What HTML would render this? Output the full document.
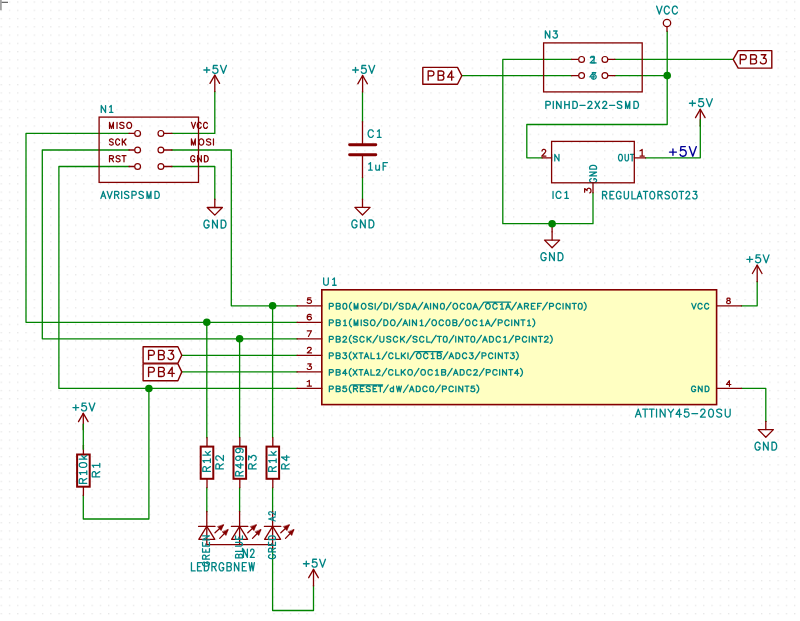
<!DOCTYPE html>
<html><head><meta charset="utf-8"><title>schematic</title>
<style>
html,body{margin:0;padding:0;background:#fff;font-family:"Liberation Sans",sans-serif;}
svg{display:block;}
text{font-family:"Liberation Sans",sans-serif;fill:#000;fill-opacity:0;stroke:none;}
path{fill:none;stroke-linejoin:round;stroke-linecap:round;}
</style></head><body>
<svg width="800" height="621" viewBox="0 0 800 621">
<defs><pattern id="g" x="0.6" y="1.4" width="8.265" height="8.265" patternUnits="userSpaceOnUse"><rect x="0" y="0" width="1.3" height="1.3" fill="#e6e6e6"/></pattern></defs>
<rect width="800" height="621" fill="#fff"/>
<rect width="800" height="621" fill="url(#g)"/>
<path d="M0,2.3 H8" stroke="#505050" stroke-width="1.1" style="stroke-linecap:butt"/><path d="M0.9,0 V10.2" stroke="#a2a2a2" stroke-width="1.8" style="stroke-linecap:butt"/>
<path d="M129,133.4 26,133.4 26,322.3 297,322.3" stroke="#008400" stroke-width="1.3" style="stroke-linecap:square"/>
<path d="M129,150 42.3,150 42.3,338.8 297,338.8" stroke="#008400" stroke-width="1.3" style="stroke-linecap:square"/>
<path d="M129,166.5 58.9,166.5 58.9,388.45 297,388.45" stroke="#008400" stroke-width="1.3" style="stroke-linecap:square"/>
<path d="M172,133.4 214.8,133.4 214.8,91.6" stroke="#008400" stroke-width="1.3" style="stroke-linecap:square"/>
<path d="M172,150 231.3,150 231.3,305.8 297,305.8" stroke="#008400" stroke-width="1.3" style="stroke-linecap:square"/>
<path d="M172,166.5 214.8,166.5 214.8,199.2" stroke="#008400" stroke-width="1.3" style="stroke-linecap:square"/>
<path d="M362.5,92 362.5,121.7" stroke="#008400" stroke-width="1.3" style="stroke-linecap:square"/>
<path d="M362.5,177.5 362.5,199.1" stroke="#008400" stroke-width="1.3" style="stroke-linecap:square"/>
<path d="M181.8,355.3 297,355.3" stroke="#008400" stroke-width="1.3" style="stroke-linecap:square"/>
<path d="M181.8,371.9 297,371.9" stroke="#008400" stroke-width="1.3" style="stroke-linecap:square"/>
<path d="M206.8,322.3 206.8,437.5" stroke="#008400" stroke-width="1.3" style="stroke-linecap:square"/>
<path d="M239.6,338.8 239.6,437.5" stroke="#008400" stroke-width="1.3" style="stroke-linecap:square"/>
<path d="M272.6,305.8 272.6,437.5" stroke="#008400" stroke-width="1.3" style="stroke-linecap:square"/>
<path d="M206.8,488 206.8,511.5" stroke="#008400" stroke-width="1.3" style="stroke-linecap:square"/>
<path d="M239.6,488 239.6,511.5" stroke="#008400" stroke-width="1.3" style="stroke-linecap:square"/>
<path d="M272.6,488 272.6,511.5" stroke="#008400" stroke-width="1.3" style="stroke-linecap:square"/>
<path d="M148.9,388.45 148.9,519 83.3,519 83.3,495.5" stroke="#008400" stroke-width="1.3" style="stroke-linecap:square"/>
<path d="M272.6,548 272.6,610.5 313.5,610.5 313.5,585.9" stroke="#008400" stroke-width="1.3" style="stroke-linecap:square"/>
<path d="M741.5,305.8 757.2,305.8 757.2,281.7" stroke="#008400" stroke-width="1.3" style="stroke-linecap:square"/>
<path d="M741.5,388.45 765.8,388.45 765.8,421.3" stroke="#008400" stroke-width="1.3" style="stroke-linecap:square"/>
<path d="M461.8,75.6 571.5,75.6" stroke="#008400" stroke-width="1.3" style="stroke-linecap:square"/>
<path d="M571.5,59.4 502.8,59.4 502.8,223.7 593,223.7 593,192.8" stroke="#008400" stroke-width="1.3" style="stroke-linecap:square"/>
<path d="M615,59.4 733.2,59.4" stroke="#008400" stroke-width="1.3" style="stroke-linecap:square"/>
<path d="M615,75.6 667.2,75.6" stroke="#008400" stroke-width="1.3" style="stroke-linecap:square"/>
<path d="M667.2,31.3 667.2,124.5 526.8,124.5 526.8,157.8 542,157.8" stroke="#008400" stroke-width="1.3" style="stroke-linecap:square"/>
<path d="M645.6,157.8 700.3,157.8 700.3,125.8" stroke="#008400" stroke-width="1.3" style="stroke-linecap:square"/>
<circle cx="272.6" cy="305.8" r="3.8" fill="#008400" stroke="none"/>
<circle cx="206.8" cy="322.3" r="3.8" fill="#008400" stroke="none"/>
<circle cx="239.6" cy="338.8" r="3.8" fill="#008400" stroke="none"/>
<circle cx="148.9" cy="388.45" r="3.8" fill="#008400" stroke="none"/>
<circle cx="667.2" cy="75.6" r="3.8" fill="#008400" stroke="none"/>
<rect x="321.8" y="289.8" width="394.8" height="114.8" fill="#ffffc2" stroke="#840000" stroke-width="1.6"/>
<path d="M297,305.8 321.8,305.8" stroke="#840000" stroke-width="1.3" style="stroke-linecap:round"/>
<path d="M297,322.3 321.8,322.3" stroke="#840000" stroke-width="1.3" style="stroke-linecap:round"/>
<path d="M297,338.8 321.8,338.8" stroke="#840000" stroke-width="1.3" style="stroke-linecap:round"/>
<path d="M297,355.3 321.8,355.3" stroke="#840000" stroke-width="1.3" style="stroke-linecap:round"/>
<path d="M297,371.9 321.8,371.9" stroke="#840000" stroke-width="1.3" style="stroke-linecap:round"/>
<path d="M297,388.45 321.8,388.45" stroke="#840000" stroke-width="1.3" style="stroke-linecap:round"/>
<path d="M716.6,305.8 741.5,305.8" stroke="#840000" stroke-width="1.3" style="stroke-linecap:round"/>
<path d="M716.6,388.45 741.5,388.45" stroke="#840000" stroke-width="1.3" style="stroke-linecap:round"/>
<path d="M323.65,277.97 323.65,283.16 323.98,284.19 324.64,284.88 325.64,285.23 326.3,285.23 327.3,284.88 327.96,284.19 328.29,283.16 328.29,277.97M332.68,279.35 333.37,279.01 334.41,277.97 334.41,285.23M332.68,285.23 336.15,285.23" stroke="#008484" stroke-width="1.3"/><text x="323" y="285.88" font-size="11.89" textLength="13.8" lengthAdjust="spacingAndGlyphs">U1</text>
<path d="M638.25,409.17 635.45,417.03M638.25,409.17 641.04,417.03M636.5,414.41 640,414.41M645.16,409.17 645.16,417.03M642.71,409.17 647.61,409.17M651.67,409.17 651.67,417.03M649.22,409.17 654.11,409.17M656.55,409.17 656.55,417.03M660.2,409.17 660.2,417.03M660.2,409.17 665.09,417.03M665.09,409.17 665.09,417.03M667.98,409.17 670.78,412.91 670.78,417.03M673.57,409.17 670.78,412.91M679.55,409.17 676.05,414.41 681.3,414.41M679.55,409.17 679.55,417.03M688.38,409.17 684.89,409.17 684.54,412.54 684.89,412.17 685.93,411.79 686.98,411.79 688.03,412.17 688.73,412.91 689.08,414.03 689.08,414.78 688.73,415.9 688.03,416.65 686.98,417.03 685.93,417.03 684.89,416.65 684.54,416.28 684.19,415.53M691.92,413.66 697.61,413.66M700.8,411.04 700.8,410.67 701.15,409.92 701.5,409.55 702.2,409.17 703.6,409.17 704.3,409.55 704.65,409.92 705,410.67 705,411.42 704.65,412.17 703.95,413.29 700.45,417.03 705.35,417.03M710.68,409.17 709.63,409.55 708.93,410.67 708.58,412.54 708.58,413.66 708.93,415.53 709.63,416.65 710.68,417.03 711.38,417.03 712.43,416.65 713.13,415.53 713.48,413.66 713.48,412.54 713.13,410.67 712.43,409.55 711.38,409.17 710.68,409.17M721.61,410.3 720.91,409.55 719.86,409.17 718.46,409.17 717.41,409.55 716.72,410.3 716.72,411.04 717.07,411.79 717.41,412.17 718.11,412.54 720.21,413.29 720.91,413.66 721.26,414.03 721.61,414.78 721.61,415.9 720.91,416.65 719.86,417.03 718.46,417.03 717.41,416.65 716.72,415.9M725.25,409.17 725.25,414.78 725.6,415.9 726.3,416.65 727.35,417.03 728.05,417.03 729.1,416.65 729.8,415.9 730.15,414.78 730.15,409.17" stroke="#008484" stroke-width="1.3"/><text x="634.8" y="417.68" font-size="12.71" textLength="96" lengthAdjust="spacingAndGlyphs">ATTINY45-20SU</text>
<path d="M329.35,303.43 329.35,309.07M329.35,303.43 331.9,303.43 332.75,303.7 333.04,303.97 333.32,304.5 333.32,305.31 333.04,305.85 332.75,306.12 331.9,306.38 329.35,306.38M336.27,303.43 336.27,309.07M336.27,303.43 338.82,303.43 339.67,303.7 339.96,303.97 340.24,304.5 340.24,305.04 339.96,305.58 339.67,305.85 338.82,306.12M336.27,306.12 338.82,306.12 339.67,306.38 339.96,306.65 340.24,307.19 340.24,308 339.96,308.53 339.67,308.8 338.82,309.07 336.27,309.07M344.57,303.43 343.72,303.7 343.15,304.5 342.87,305.85 342.87,306.65 343.15,308 343.72,308.8 344.57,309.07 345.13,309.07 345.98,308.8 346.55,308 346.83,306.65 346.83,305.85 346.55,304.5 345.98,303.7 345.13,303.43 344.57,303.43M351.44,302.36 350.78,302.94 350.12,303.82 349.79,304.7 349.46,305.88 349.46,306.76 349.79,307.93 350.12,308.81 350.78,309.69 351.44,310.28M354.21,303.43 354.21,309.07M354.21,303.43 356.06,309.07M357.9,303.43 356.06,309.07M357.9,303.43 357.9,309.07M363.07,303.43 362.51,303.7 361.94,304.24 361.66,304.77 361.37,305.58 361.37,306.92 361.66,307.73 361.94,308.26 362.51,308.8 363.07,309.07 364.21,309.07 364.77,308.8 365.34,308.26 365.62,307.73 365.91,306.92 365.91,305.58 365.62,304.77 365.34,304.24 364.77,303.7 364.21,303.43 363.07,303.43M372.55,304.24 371.98,303.7 371.13,303.43 370,303.43 369.14,303.7 368.58,304.24 368.58,304.77 368.86,305.31 369.14,305.58 369.71,305.85 371.41,306.38 371.98,306.65 372.26,306.92 372.55,307.46 372.55,308.26 371.98,308.8 371.13,309.07 370,309.07 369.14,308.8 368.58,308.26M375.18,303.43 375.18,309.07M381.81,302.36 377.11,309.88M384.07,303.43 384.07,309.07M384.07,303.43 386.06,303.43 386.91,303.7 387.47,304.24 387.76,304.77 388.04,305.58 388.04,306.92 387.76,307.73 387.47,308.26 386.91,308.8 386.06,309.07 384.07,309.07M390.67,303.43 390.67,309.07M397.3,302.36 392.61,309.88M403.2,304.24 402.64,303.7 401.79,303.43 400.65,303.43 399.8,303.7 399.23,304.24 399.23,304.77 399.52,305.31 399.8,305.58 400.37,305.85 402.07,306.38 402.64,306.65 402.92,306.92 403.2,307.46 403.2,308.26 402.64,308.8 401.79,309.07 400.65,309.07 399.8,308.8 399.23,308.26M406.16,303.43 406.16,309.07M406.16,303.43 408.14,303.43 408.99,303.7 409.56,304.24 409.84,304.77 410.13,305.58 410.13,306.92 409.84,307.73 409.56,308.26 408.99,308.8 408.14,309.07 406.16,309.07M414.4,303.43 412.14,309.07M414.4,303.43 416.67,309.07M412.99,307.19 415.82,307.19M422.69,302.36 417.99,309.88M426.27,303.43 424,309.07M426.27,303.43 428.54,309.07M424.85,307.19 427.69,307.19M430.56,303.43 430.56,309.07M433.52,303.43 433.52,309.07M433.52,303.43 437.49,309.07M437.49,303.43 437.49,309.07M442.14,303.43 441.29,303.7 440.72,304.5 440.44,305.85 440.44,306.65 440.72,308 441.29,308.8 442.14,309.07 442.71,309.07 443.56,308.8 444.13,308 444.41,306.65 444.41,305.85 444.13,304.5 443.56,303.7 442.71,303.43 442.14,303.43M451.04,302.36 446.34,309.88M454.71,303.43 454.15,303.7 453.58,304.24 453.3,304.77 453.01,305.58 453.01,306.92 453.3,307.73 453.58,308.26 454.15,308.8 454.71,309.07 455.85,309.07 456.41,308.8 456.98,308.26 457.27,307.73 457.55,306.92 457.55,305.58 457.27,304.77 456.98,304.24 456.41,303.7 455.85,303.43 454.71,303.43M464.47,304.77 464.19,304.24 463.62,303.7 463.05,303.43 461.92,303.43 461.35,303.7 460.79,304.24 460.5,304.77 460.22,305.58 460.22,306.92 460.5,307.73 460.79,308.26 461.35,308.8 461.92,309.07 463.05,309.07 463.62,308.8 464.19,308.26 464.47,307.73M468.84,303.43 467.99,303.7 467.43,304.5 467.14,305.85 467.14,306.65 467.43,308 467.99,308.8 468.84,309.07 469.41,309.07 470.26,308.8 470.83,308 471.11,306.65 471.11,305.85 470.83,304.5 470.26,303.7 469.41,303.43 468.84,303.43M475.39,303.43 473.12,309.07M475.39,303.43 477.66,309.07M473.97,307.19 476.81,307.19M483.67,302.36 478.97,309.88M487.35,303.43 486.78,303.7 486.21,304.24 485.93,304.77 485.65,305.58 485.65,306.92 485.93,307.73 486.21,308.26 486.78,308.8 487.35,309.07 488.48,309.07 489.05,308.8 489.62,308.26 489.9,307.73 490.18,306.92 490.18,305.58 489.9,304.77 489.62,304.24 489.05,303.7 488.48,303.43 487.35,303.43M497.11,304.77 496.82,304.24 496.26,303.7 495.69,303.43 494.55,303.43 493.99,303.7 493.42,304.24 493.14,304.77 492.85,305.58 492.85,306.92 493.14,307.73 493.42,308.26 493.99,308.8 494.55,309.07 495.69,309.07 496.26,308.8 496.82,308.26 497.11,307.73M500.57,304.5 501.17,304.24 502.06,303.43 502.06,309.07M500.57,309.07 503.54,309.07M508.02,303.43 505.76,309.07M508.02,303.43 510.29,309.07M506.61,307.19 509.44,307.19M516.31,302.36 511.61,309.88M519.89,303.43 517.62,309.07M519.89,303.43 522.16,309.07M518.47,307.19 521.31,307.19M524.5,303.43 524.5,309.07M524.5,303.43 527.05,303.43 527.9,303.7 528.19,303.97 528.47,304.5 528.47,305.04 528.19,305.58 527.9,305.85 527.05,306.12 524.5,306.12M526.48,306.12 528.47,309.07M531.38,303.43 531.38,309.07M531.38,303.43 535.06,303.43M531.38,306.12 533.64,306.12M531.38,309.07 535.06,309.07M537.64,303.43 537.64,309.07M537.64,303.43 541.32,303.43M537.64,306.12 539.91,306.12M547.29,302.36 542.6,309.88M549.55,303.43 549.55,309.07M549.55,303.43 552.1,303.43 552.95,303.7 553.24,303.97 553.52,304.5 553.52,305.31 553.24,305.85 552.95,306.12 552.1,306.38 549.55,306.38M560.4,304.77 560.11,304.24 559.55,303.7 558.98,303.43 557.85,303.43 557.28,303.7 556.71,304.24 556.43,304.77 556.15,305.58 556.15,306.92 556.43,307.73 556.71,308.26 557.28,308.8 557.85,309.07 558.98,309.07 559.55,308.8 560.11,308.26 560.4,307.73M563.07,303.43 563.07,309.07M566.04,303.43 566.04,309.07M566.04,303.43 570,309.07M570,303.43 570,309.07M574.28,303.43 574.28,309.07M572.3,303.43 576.27,303.43M579.93,303.43 579.08,303.7 578.52,304.5 578.23,305.85 578.23,306.65 578.52,308 579.08,308.8 579.93,309.07 580.5,309.07 581.35,308.8 581.92,308 582.2,306.65 582.2,305.85 581.92,304.5 581.35,303.7 580.5,303.43 579.93,303.43M584.17,302.36 584.83,302.94 585.49,303.82 585.82,304.7 586.15,305.88 586.15,306.76 585.82,307.93 585.49,308.81 584.83,309.69 584.17,310.28M484.62,302.22 510.66,302.22" stroke="#008484" stroke-width="1.3"/><text x="328.7" y="309.72" font-size="9.64" textLength="258.1" lengthAdjust="spacingAndGlyphs">PB0(MOSI/DI/SDA/AIN0/OC0A/OC1A/AREF/PCINT0)</text>
<path d="M329.35,319.93 329.35,325.57M329.35,319.93 331.89,319.93 332.74,320.2 333.02,320.47 333.31,321 333.31,321.81 333.02,322.35 332.74,322.62 331.89,322.88 329.35,322.88M336.25,319.93 336.25,325.57M336.25,319.93 338.79,319.93 339.64,320.2 339.93,320.47 340.21,321 340.21,321.54 339.93,322.08 339.64,322.35 338.79,322.62M336.25,322.62 338.79,322.62 339.64,322.88 339.93,323.15 340.21,323.69 340.21,324.5 339.93,325.03 339.64,325.3 338.79,325.57 336.25,325.57M343.62,321 344.21,320.74 345.1,319.93 345.1,325.57M343.62,325.57 346.58,325.57M351.37,318.86 350.72,319.44 350.06,320.32 349.73,321.2 349.4,322.38 349.4,323.26 349.73,324.43 350.06,325.31 350.72,326.19 351.37,326.78M354.14,319.93 354.14,325.57M354.14,319.93 355.98,325.57M357.82,319.93 355.98,325.57M357.82,319.93 357.82,325.57M361.23,319.93 361.23,325.57M367.81,320.74 367.25,320.2 366.4,319.93 365.27,319.93 364.42,320.2 363.86,320.74 363.86,321.27 364.14,321.81 364.42,322.08 364.99,322.35 366.68,322.88 367.25,323.15 367.53,323.42 367.81,323.96 367.81,324.76 367.25,325.3 366.4,325.57 365.27,325.57 364.42,325.3 363.86,324.76M372.17,319.93 371.61,320.2 371.04,320.74 370.76,321.27 370.47,322.08 370.47,323.42 370.76,324.23 371.04,324.76 371.61,325.3 372.17,325.57 373.3,325.57 373.87,325.3 374.43,324.76 374.71,324.23 375,323.42 375,322.08 374.71,321.27 374.43,320.74 373.87,320.2 373.3,319.93 372.17,319.93M381.65,318.86 376.97,326.38M383.9,319.93 383.9,325.57M383.9,319.93 385.88,319.93 386.73,320.2 387.29,320.74 387.58,321.27 387.86,322.08 387.86,323.42 387.58,324.23 387.29,324.76 386.73,325.3 385.88,325.57 383.9,325.57M392.22,319.93 391.65,320.2 391.09,320.74 390.8,321.27 390.52,322.08 390.52,323.42 390.8,324.23 391.09,324.76 391.65,325.3 392.22,325.57 393.35,325.57 393.91,325.3 394.48,324.76 394.76,324.23 395.04,323.42 395.04,322.08 394.76,321.27 394.48,320.74 393.91,320.2 393.35,319.93 392.22,319.93M401.7,318.86 397.01,326.38M405.27,319.93 403.01,325.57M405.27,319.93 407.53,325.57M403.86,323.69 406.68,323.69M409.54,319.93 409.54,325.57M412.49,319.93 412.49,325.57M412.49,319.93 416.45,325.57M416.45,319.93 416.45,325.57M420.19,321 420.78,320.74 421.67,319.93 421.67,325.57M420.19,325.57 423.15,325.57M429.96,318.86 425.28,326.38M433.62,319.93 433.06,320.2 432.49,320.74 432.21,321.27 431.93,322.08 431.93,323.42 432.21,324.23 432.49,324.76 433.06,325.3 433.62,325.57 434.75,325.57 435.32,325.3 435.89,324.76 436.17,324.23 436.45,323.42 436.45,322.08 436.17,321.27 435.89,320.74 435.32,320.2 434.75,319.93 433.62,319.93M443.35,321.27 443.07,320.74 442.5,320.2 441.94,319.93 440.81,319.93 440.24,320.2 439.68,320.74 439.39,321.27 439.11,322.08 439.11,323.42 439.39,324.23 439.68,324.76 440.24,325.3 440.81,325.57 441.94,325.57 442.5,325.3 443.07,324.76 443.35,324.23M447.71,319.93 446.86,320.2 446.3,321 446.01,322.35 446.01,323.15 446.3,324.5 446.86,325.3 447.71,325.57 448.27,325.57 449.12,325.3 449.69,324.5 449.97,323.15 449.97,322.35 449.69,321 449.12,320.2 448.27,319.93 447.71,319.93M452.91,319.93 452.91,325.57M452.91,319.93 455.46,319.93 456.31,320.2 456.59,320.47 456.87,321 456.87,321.54 456.59,322.08 456.31,322.35 455.46,322.62M452.91,322.62 455.46,322.62 456.31,322.88 456.59,323.15 456.87,323.69 456.87,324.5 456.59,325.03 456.31,325.3 455.46,325.57 452.91,325.57M463.48,318.86 458.8,326.38M467.14,319.93 466.58,320.2 466.01,320.74 465.73,321.27 465.45,322.08 465.45,323.42 465.73,324.23 466.01,324.76 466.58,325.3 467.14,325.57 468.27,325.57 468.84,325.3 469.41,324.76 469.69,324.23 469.97,323.42 469.97,322.08 469.69,321.27 469.41,320.74 468.84,320.2 468.27,319.93 467.14,319.93M476.87,321.27 476.59,320.74 476.02,320.2 475.46,319.93 474.33,319.93 473.76,320.2 473.2,320.74 472.92,321.27 472.63,322.08 472.63,323.42 472.92,324.23 473.2,324.76 473.76,325.3 474.33,325.57 475.46,325.57 476.02,325.3 476.59,324.76 476.87,324.23M480.33,321 480.92,320.74 481.81,319.93 481.81,325.57M480.33,325.57 483.29,325.57M487.76,319.93 485.5,325.57M487.76,319.93 490.02,325.57M486.34,323.69 489.17,323.69M496.01,318.86 491.33,326.38M498.27,319.93 498.27,325.57M498.27,319.93 500.81,319.93 501.66,320.2 501.94,320.47 502.22,321 502.22,321.81 501.94,322.35 501.66,322.62 500.81,322.88 498.27,322.88M509.08,321.27 508.79,320.74 508.23,320.2 507.66,319.93 506.53,319.93 505.97,320.2 505.4,320.74 505.12,321.27 504.84,322.08 504.84,323.42 505.12,324.23 505.4,324.76 505.97,325.3 506.53,325.57 507.66,325.57 508.23,325.3 508.79,324.76 509.08,324.23M511.75,319.93 511.75,325.57M514.7,319.93 514.7,325.57M514.7,319.93 518.65,325.57M518.65,319.93 518.65,325.57M522.92,319.93 522.92,325.57M520.94,319.93 524.9,319.93M527.65,321 528.24,320.74 529.13,319.93 529.13,325.57M527.65,325.57 530.61,325.57M532.78,318.86 533.44,319.44 534.09,320.32 534.42,321.2 534.75,322.38 534.75,323.26 534.42,324.43 534.09,325.31 533.44,326.19 532.78,326.78" stroke="#008484" stroke-width="1.3"/><text x="328.7" y="326.22" font-size="9.64" textLength="206.7" lengthAdjust="spacingAndGlyphs">PB1(MISO/DO/AIN1/OC0B/OC1A/PCINT1)</text>
<path d="M329.35,336.43 329.35,342.07M329.35,336.43 331.89,336.43 332.74,336.7 333.02,336.97 333.3,337.5 333.3,338.31 333.02,338.85 332.74,339.12 331.89,339.38 329.35,339.38M336.24,336.43 336.24,342.07M336.24,336.43 338.78,336.43 339.63,336.7 339.91,336.97 340.2,337.5 340.2,338.04 339.91,338.58 339.63,338.85 338.78,339.12M336.24,339.12 338.78,339.12 339.63,339.38 339.91,339.65 340.2,340.19 340.2,341 339.91,341.53 339.63,341.8 338.78,342.07 336.24,342.07M343.09,337.77 343.09,337.5 343.37,336.97 343.66,336.7 344.22,336.43 345.35,336.43 345.91,336.7 346.2,336.97 346.48,337.5 346.48,338.04 346.2,338.58 345.63,339.38 342.81,342.07 346.76,342.07M351.35,335.36 350.69,335.94 350.04,336.82 349.71,337.7 349.38,338.88 349.38,339.76 349.71,340.93 350.04,341.81 350.69,342.69 351.35,343.28M357.27,337.24 356.7,336.7 355.85,336.43 354.73,336.43 353.88,336.7 353.31,337.24 353.31,337.77 353.6,338.31 353.88,338.58 354.44,338.85 356.14,339.38 356.7,339.65 356.98,339.92 357.27,340.46 357.27,341.26 356.7,341.8 355.85,342.07 354.73,342.07 353.88,341.8 353.31,341.26M364.11,337.77 363.83,337.24 363.27,336.7 362.7,336.43 361.57,336.43 361.01,336.7 360.44,337.24 360.16,337.77 359.88,338.58 359.88,339.92 360.16,340.73 360.44,341.26 361.01,341.8 361.57,342.07 362.7,342.07 363.27,341.8 363.83,341.26 364.11,340.73M367.1,336.43 367.1,342.07M371.05,336.43 367.1,340.19M368.51,338.85 371.05,342.07M377.65,335.36 372.98,342.88M379.9,336.43 379.9,340.46 380.19,341.26 380.75,341.8 381.6,342.07 382.16,342.07 383.01,341.8 383.57,341.26 383.86,340.46 383.86,336.43M390.75,337.24 390.18,336.7 389.34,336.43 388.21,336.43 387.36,336.7 386.8,337.24 386.8,337.77 387.08,338.31 387.36,338.58 387.93,338.85 389.62,339.38 390.18,339.65 390.47,339.92 390.75,340.46 390.75,341.26 390.18,341.8 389.34,342.07 388.21,342.07 387.36,341.8 386.8,341.26M397.6,337.77 397.31,337.24 396.75,336.7 396.19,336.43 395.06,336.43 394.49,336.7 393.93,337.24 393.64,337.77 393.36,338.58 393.36,339.92 393.64,340.73 393.93,341.26 394.49,341.8 395.06,342.07 396.19,342.07 396.75,341.8 397.31,341.26 397.6,340.73M400.58,336.43 400.58,342.07M404.54,336.43 400.58,340.19M402,338.85 404.54,342.07M411.14,335.36 406.46,342.88M417.01,337.24 416.45,336.7 415.6,336.43 414.47,336.43 413.62,336.7 413.06,337.24 413.06,337.77 413.34,338.31 413.62,338.58 414.19,338.85 415.88,339.38 416.45,339.65 416.73,339.92 417.01,340.46 417.01,341.26 416.45,341.8 415.6,342.07 414.47,342.07 413.62,341.8 413.06,341.26M423.86,337.77 423.58,337.24 423.01,336.7 422.45,336.43 421.32,336.43 420.75,336.7 420.19,337.24 419.91,337.77 419.62,338.58 419.62,339.92 419.91,340.73 420.19,341.26 420.75,341.8 421.32,342.07 422.45,342.07 423.01,341.8 423.58,341.26 423.86,340.73M426.8,336.43 426.8,342.07M426.8,342.07 430.19,342.07M436.08,335.36 431.41,342.88M439.33,336.43 439.33,342.07M437.35,336.43 441.3,336.43M444.95,336.43 444.11,336.7 443.54,337.5 443.26,338.85 443.26,339.65 443.54,341 444.11,341.8 444.95,342.07 445.52,342.07 446.36,341.8 446.93,341 447.21,339.65 447.21,338.85 446.93,337.5 446.36,336.7 445.52,336.43 444.95,336.43M453.81,335.36 449.13,342.88M455.74,336.43 455.74,342.07M458.69,336.43 458.69,342.07M458.69,336.43 462.64,342.07M462.64,336.43 462.64,342.07M466.9,336.43 466.9,342.07M464.92,336.43 468.88,336.43M472.53,336.43 471.68,336.7 471.12,337.5 470.83,338.85 470.83,339.65 471.12,341 471.68,341.8 472.53,342.07 473.09,342.07 473.94,341.8 474.5,341 474.79,339.65 474.79,338.85 474.5,337.5 473.94,336.7 473.09,336.43 472.53,336.43M481.39,335.36 476.71,342.88M484.96,336.43 482.7,342.07M484.96,336.43 487.21,342.07M483.54,340.19 486.37,340.19M489.54,336.43 489.54,342.07M489.54,336.43 491.52,336.43 492.37,336.7 492.93,337.24 493.21,337.77 493.5,338.58 493.5,339.92 493.21,340.73 492.93,341.26 492.37,341.8 491.52,342.07 489.54,342.07M500.34,337.77 500.06,337.24 499.5,336.7 498.93,336.43 497.8,336.43 497.24,336.7 496.67,337.24 496.39,337.77 496.11,338.58 496.11,339.92 496.39,340.73 496.67,341.26 497.24,341.8 497.8,342.07 498.93,342.07 499.5,341.8 500.06,341.26 500.34,340.73M503.8,337.5 504.39,337.24 505.27,336.43 505.27,342.07M503.8,342.07 506.75,342.07M513.56,335.36 508.88,342.88M515.81,336.43 515.81,342.07M515.81,336.43 518.35,336.43 519.19,336.7 519.48,336.97 519.76,337.5 519.76,338.31 519.48,338.85 519.19,339.12 518.35,339.38 515.81,339.38M526.61,337.77 526.32,337.24 525.76,336.7 525.19,336.43 524.06,336.43 523.5,336.7 522.94,337.24 522.65,337.77 522.37,338.58 522.37,339.92 522.65,340.73 522.94,341.26 523.5,341.8 524.06,342.07 525.19,342.07 525.76,341.8 526.32,341.26 526.61,340.73M529.27,336.43 529.27,342.07M532.22,336.43 532.22,342.07M532.22,336.43 536.17,342.07M536.17,336.43 536.17,342.07M540.43,336.43 540.43,342.07M538.46,336.43 542.41,336.43M544.65,337.77 544.65,337.5 544.93,336.97 545.21,336.7 545.78,336.43 546.91,336.43 547.47,336.7 547.75,336.97 548.04,337.5 548.04,338.04 547.75,338.58 547.19,339.38 544.37,342.07 548.32,342.07M550.28,335.36 550.94,335.94 551.59,336.82 551.92,337.7 552.25,338.88 552.25,339.76 551.92,340.93 551.59,341.81 550.94,342.69 550.28,343.28" stroke="#008484" stroke-width="1.3"/><text x="328.7" y="342.72" font-size="9.64" textLength="224.2" lengthAdjust="spacingAndGlyphs">PB2(SCK/USCK/SCL/T0/INT0/ADC1/PCINT2)</text>
<path d="M329.35,352.93 329.35,358.57M329.35,352.93 331.88,352.93 332.72,353.2 333,353.47 333.28,354 333.28,354.81 333,355.35 332.72,355.62 331.88,355.88 329.35,355.88M336.2,352.93 336.2,358.57M336.2,352.93 338.73,352.93 339.57,353.2 339.85,353.47 340.13,354 340.13,354.54 339.85,355.08 339.57,355.35 338.73,355.62M336.2,355.62 338.73,355.62 339.57,355.88 339.85,356.15 340.13,356.69 340.13,357.5 339.85,358.03 339.57,358.3 338.73,358.57 336.2,358.57M343.29,352.93 346.37,352.93 344.69,355.08 345.53,355.08 346.09,355.35 346.37,355.62 346.65,356.42 346.65,356.96 346.37,357.76 345.81,358.3 344.97,358.57 344.13,358.57 343.29,358.3 343.01,358.03 342.73,357.5M351.21,351.86 350.56,352.44 349.91,353.32 349.58,354.2 349.26,355.38 349.26,356.26 349.58,357.43 349.91,358.31 350.56,359.19 351.21,359.78M353.17,352.93 357.09,358.57M357.09,352.93 353.17,358.57M361,352.93 361,358.57M359.04,352.93 362.97,352.93M366.55,352.93 364.3,358.57M366.55,352.93 368.79,358.57M365.15,356.69 367.95,356.69M371.06,352.93 371.06,358.57M371.06,358.57 374.43,358.57M377.12,354 377.71,353.74 378.59,352.93 378.59,358.57M377.12,358.57 380.05,358.57M386.82,351.86 382.17,359.38M392.93,354.27 392.65,353.74 392.09,353.2 391.53,352.93 390.41,352.93 389.85,353.2 389.29,353.74 389.01,354.27 388.73,355.08 388.73,356.42 389.01,357.23 389.29,357.76 389.85,358.3 390.41,358.57 391.53,358.57 392.09,358.3 392.65,357.76 392.93,357.23M395.86,352.93 395.86,358.57M395.86,358.57 399.22,358.57M401.45,352.93 401.45,358.57M405.38,352.93 401.45,356.69M402.85,355.35 405.38,358.57M407.98,352.93 407.98,358.57M414.55,351.86 409.9,359.38M418.19,352.93 417.62,353.2 417.06,353.74 416.78,354.27 416.5,355.08 416.5,356.42 416.78,357.23 417.06,357.76 417.62,358.3 418.19,358.57 419.31,358.57 419.87,358.3 420.43,357.76 420.71,357.23 420.99,356.42 420.99,355.08 420.71,354.27 420.43,353.74 419.87,353.2 419.31,352.93 418.19,352.93M427.84,354.27 427.56,353.74 427,353.2 426.44,352.93 425.32,352.93 424.76,353.2 424.19,353.74 423.91,354.27 423.63,355.08 423.63,356.42 423.91,357.23 424.19,357.76 424.76,358.3 425.32,358.57 426.44,358.57 427,358.3 427.56,357.76 427.84,357.23M431.27,354 431.86,353.74 432.74,352.93 432.74,358.57M431.27,358.57 434.21,358.57M437.34,352.93 437.34,358.57M437.34,352.93 439.86,352.93 440.7,353.2 440.98,353.47 441.26,354 441.26,354.54 440.98,355.08 440.7,355.35 439.86,355.62M437.34,355.62 439.86,355.62 440.7,355.88 440.98,356.15 441.26,356.69 441.26,357.5 440.98,358.03 440.7,358.3 439.86,358.57 437.34,358.57M447.82,351.86 443.17,359.38M451.37,352.93 449.13,358.57M451.37,352.93 453.62,358.57M449.97,356.69 452.77,356.69M455.93,352.93 455.93,358.57M455.93,352.93 457.9,352.93 458.74,353.2 459.3,353.74 459.58,354.27 459.86,355.08 459.86,356.42 459.58,357.23 459.3,357.76 458.74,358.3 457.9,358.57 455.93,358.57M466.66,354.27 466.38,353.74 465.82,353.2 465.26,352.93 464.14,352.93 463.58,353.2 463.02,353.74 462.74,354.27 462.46,355.08 462.46,356.42 462.74,357.23 463.02,357.76 463.58,358.3 464.14,358.57 465.26,358.57 465.82,358.3 466.38,357.76 466.66,357.23M469.87,352.93 472.95,352.93 471.27,355.08 472.11,355.08 472.67,355.35 472.95,355.62 473.24,356.42 473.24,356.96 472.95,357.76 472.39,358.3 471.55,358.57 470.71,358.57 469.87,358.3 469.59,358.03 469.31,357.5M479.79,351.86 475.15,359.38M482.03,352.93 482.03,358.57M482.03,352.93 484.56,352.93 485.4,353.2 485.68,353.47 485.96,354 485.96,354.81 485.68,355.35 485.4,355.62 484.56,355.88 482.03,355.88M492.76,354.27 492.48,353.74 491.92,353.2 491.36,352.93 490.24,352.93 489.68,353.2 489.12,353.74 488.84,354.27 488.56,355.08 488.56,356.42 488.84,357.23 489.12,357.76 489.68,358.3 490.24,358.57 491.36,358.57 491.92,358.3 492.48,357.76 492.76,357.23M495.41,352.93 495.41,358.57M498.34,352.93 498.34,358.57M498.34,352.93 502.27,358.57M502.27,352.93 502.27,358.57M506.51,352.93 506.51,358.57M504.54,352.93 508.47,352.93M510.97,352.93 514.06,352.93 512.38,355.08 513.22,355.08 513.78,355.35 514.06,355.62 514.34,356.42 514.34,356.96 514.06,357.76 513.5,358.3 512.66,358.57 511.82,358.57 510.97,358.3 510.69,358.03 510.41,357.5M516.29,351.86 516.95,352.44 517.6,353.32 517.92,354.2 518.25,355.38 518.25,356.26 517.92,357.43 517.6,358.31 516.95,359.19 516.29,359.78M415.48,351.72 442.24,351.72" stroke="#008484" stroke-width="1.3"/><text x="328.7" y="359.22" font-size="9.64" textLength="190.2" lengthAdjust="spacingAndGlyphs">PB3(XTAL1/CLKI/OC1B/ADC3/PCINT3)</text>
<path d="M329.35,369.53 329.35,375.17M329.35,369.53 331.87,369.53 332.71,369.8 332.99,370.07 333.27,370.6 333.27,371.41 332.99,371.95 332.71,372.22 331.87,372.48 329.35,372.48M336.19,369.53 336.19,375.17M336.19,369.53 338.71,369.53 339.55,369.8 339.83,370.07 340.11,370.6 340.11,371.14 339.83,371.68 339.55,371.95 338.71,372.22M336.19,372.22 338.71,372.22 339.55,372.48 339.83,372.75 340.11,373.29 340.11,374.1 339.83,374.63 339.55,374.9 338.71,375.17 336.19,375.17M345.5,369.53 342.7,373.29 346.9,373.29M345.5,369.53 345.5,375.17M351.17,368.46 350.52,369.04 349.87,369.92 349.55,370.8 349.22,371.98 349.22,372.86 349.55,374.03 349.87,374.91 350.52,375.79 351.17,376.38M353.12,369.53 357.04,375.17M357.04,369.53 353.12,375.17M360.94,369.53 360.94,375.17M358.98,369.53 362.9,369.53M366.48,369.53 364.24,375.17M366.48,369.53 368.72,375.17M365.08,373.29 367.88,373.29M370.98,369.53 370.98,375.17M370.98,375.17 374.34,375.17M376.52,370.87 376.52,370.6 376.8,370.07 377.08,369.8 377.64,369.53 378.76,369.53 379.32,369.8 379.6,370.07 379.88,370.6 379.88,371.14 379.6,371.68 379.04,372.48 376.24,375.17 380.16,375.17M386.71,368.46 382.07,375.98M392.81,370.87 392.53,370.34 391.97,369.8 391.41,369.53 390.29,369.53 389.73,369.8 389.17,370.34 388.89,370.87 388.61,371.68 388.61,373.02 388.89,373.83 389.17,374.36 389.73,374.9 390.29,375.17 391.41,375.17 391.97,374.9 392.53,374.36 392.81,373.83M395.73,369.53 395.73,375.17M395.73,375.17 399.09,375.17M401.31,369.53 401.31,375.17M405.23,369.53 401.31,373.29M402.71,371.95 405.23,375.17M409.55,369.53 408.99,369.8 408.43,370.34 408.15,370.87 407.87,371.68 407.87,373.02 408.15,373.83 408.43,374.36 408.99,374.9 409.55,375.17 410.67,375.17 411.23,374.9 411.79,374.36 412.07,373.83 412.35,373.02 412.35,371.68 412.07,370.87 411.79,370.34 411.23,369.8 410.67,369.53 409.55,369.53M418.94,368.46 414.3,375.98M422.58,369.53 422.02,369.8 421.46,370.34 421.18,370.87 420.9,371.68 420.9,373.02 421.18,373.83 421.46,374.36 422.02,374.9 422.58,375.17 423.7,375.17 424.26,374.9 424.82,374.36 425.1,373.83 425.38,373.02 425.38,371.68 425.1,370.87 424.82,370.34 424.26,369.8 423.7,369.53 422.58,369.53M432.21,370.87 431.93,370.34 431.37,369.8 430.81,369.53 429.69,369.53 429.13,369.8 428.57,370.34 428.29,370.87 428.01,371.68 428.01,373.02 428.29,373.83 428.57,374.36 429.13,374.9 429.69,375.17 430.81,375.17 431.37,374.9 431.93,374.36 432.21,373.83M435.64,370.6 436.23,370.34 437.1,369.53 437.1,375.17M435.64,375.17 438.57,375.17M441.69,369.53 441.69,375.17M441.69,369.53 444.21,369.53 445.05,369.8 445.33,370.07 445.61,370.6 445.61,371.14 445.33,371.68 445.05,371.95 444.21,372.22M441.69,372.22 444.21,372.22 445.05,372.48 445.33,372.75 445.61,373.29 445.61,374.1 445.33,374.63 445.05,374.9 444.21,375.17 441.69,375.17M452.16,368.46 447.52,375.98M455.7,369.53 453.46,375.17M455.7,369.53 457.94,375.17M454.3,373.29 457.1,373.29M460.25,369.53 460.25,375.17M460.25,369.53 462.21,369.53 463.05,369.8 463.61,370.34 463.89,370.87 464.17,371.68 464.17,373.02 463.89,373.83 463.61,374.36 463.05,374.9 462.21,375.17 460.25,375.17M470.96,370.87 470.68,370.34 470.12,369.8 469.56,369.53 468.44,369.53 467.88,369.8 467.32,370.34 467.04,370.87 466.76,371.68 466.76,373.02 467.04,373.83 467.32,374.36 467.88,374.9 468.44,375.17 469.56,375.17 470.12,374.9 470.68,374.36 470.96,373.83M473.88,370.87 473.88,370.6 474.16,370.07 474.44,369.8 475,369.53 476.12,369.53 476.68,369.8 476.96,370.07 477.24,370.6 477.24,371.14 476.96,371.68 476.4,372.48 473.6,375.17 477.52,375.17M484.07,368.46 479.43,375.98M486.3,369.53 486.3,375.17M486.3,369.53 488.82,369.53 489.66,369.8 489.94,370.07 490.22,370.6 490.22,371.41 489.94,371.95 489.66,372.22 488.82,372.48 486.3,372.48M497.01,370.87 496.73,370.34 496.17,369.8 495.61,369.53 494.49,369.53 493.93,369.8 493.37,370.34 493.09,370.87 492.81,371.68 492.81,373.02 493.09,373.83 493.37,374.36 493.93,374.9 494.49,375.17 495.61,375.17 496.17,374.9 496.73,374.36 497.01,373.83M499.66,369.53 499.66,375.17M502.58,369.53 502.58,375.17M502.58,369.53 506.5,375.17M506.5,369.53 506.5,375.17M510.73,369.53 510.73,375.17M508.77,369.53 512.69,369.53M517.43,369.53 514.63,373.29 518.83,373.29M517.43,369.53 517.43,375.17M520.5,368.46 521.15,369.04 521.8,369.92 522.12,370.8 522.45,371.98 522.45,372.86 522.12,374.03 521.8,374.91 521.15,375.79 520.5,376.38" stroke="#008484" stroke-width="1.3"/><text x="328.7" y="375.82" font-size="9.64" textLength="194.4" lengthAdjust="spacingAndGlyphs">PB4(XTAL2/CLKO/OC1B/ADC2/PCINT4)</text>
<path d="M329.35,386.08 329.35,391.72M329.35,386.08 331.88,386.08 332.72,386.35 333,386.62 333.29,387.15 333.29,387.96 333,388.5 332.72,388.77 331.88,389.03 329.35,389.03M336.21,386.08 336.21,391.72M336.21,386.08 338.75,386.08 339.59,386.35 339.87,386.62 340.15,387.15 340.15,387.69 339.87,388.23 339.59,388.5 338.75,388.77M336.21,388.77 338.75,388.77 339.59,389.03 339.87,389.3 340.15,389.84 340.15,390.65 339.87,391.18 339.59,391.45 338.75,391.72 336.21,391.72M346.13,386.08 343.32,386.08 343.03,388.5 343.32,388.23 344.16,387.96 345,387.96 345.85,388.23 346.41,388.77 346.69,389.57 346.69,390.11 346.41,390.91 345.85,391.45 345,391.72 344.16,391.72 343.32,391.45 343.03,391.18 342.75,390.65M351.26,385.01 350.61,385.59 349.95,386.47 349.62,387.35 349.3,388.53 349.3,389.41 349.62,390.58 349.95,391.46 350.61,392.34 351.26,392.93M353.54,386.08 353.54,391.72M353.54,386.08 356.07,386.08 356.91,386.35 357.2,386.62 357.48,387.15 357.48,387.69 357.2,388.23 356.91,388.5 356.07,388.77 353.54,388.77M355.51,388.77 357.48,391.72M360.36,386.08 360.36,391.72M360.36,386.08 364.01,386.08M360.36,388.77 362.61,388.77M360.36,391.72 364.01,391.72M370.23,386.89 369.66,386.35 368.82,386.08 367.7,386.08 366.85,386.35 366.29,386.89 366.29,387.42 366.57,387.96 366.85,388.23 367.41,388.5 369.1,389.03 369.66,389.3 369.94,389.57 370.23,390.11 370.23,390.91 369.66,391.45 368.82,391.72 367.7,391.72 366.85,391.45 366.29,390.91M373.11,386.08 373.11,391.72M373.11,386.08 376.76,386.08M373.11,388.77 375.36,388.77M373.11,391.72 376.76,391.72M380.35,386.08 380.35,391.72M378.39,386.08 382.32,386.08M388.24,385.01 383.58,392.53M393.48,386.08 393.48,391.72M393.48,388.77 392.92,388.23 392.36,387.96 391.51,387.96 390.95,388.23 390.39,388.77 390.11,389.57 390.11,390.11 390.39,390.91 390.95,391.45 391.51,391.72 392.36,391.72 392.92,391.45 393.48,390.91M396.57,386.08 397.78,391.72M398.99,386.08 397.78,391.72M398.99,386.08 400.2,391.72M401.41,386.08 400.2,391.72M408.18,385.01 403.52,392.53M411.74,386.08 409.49,391.72M411.74,386.08 413.98,391.72M410.33,389.84 413.14,389.84M416.31,386.08 416.31,391.72M416.31,386.08 418.27,386.08 419.12,386.35 419.68,386.89 419.96,387.42 420.24,388.23 420.24,389.57 419.96,390.38 419.68,390.91 419.12,391.45 418.27,391.72 416.31,391.72M427.06,387.42 426.78,386.89 426.22,386.35 425.65,386.08 424.53,386.08 423.97,386.35 423.41,386.89 423.12,387.42 422.84,388.23 422.84,389.57 423.12,390.38 423.41,390.91 423.97,391.45 424.53,391.72 425.65,391.72 426.22,391.45 426.78,390.91 427.06,390.38M431.4,386.08 430.55,386.35 429.99,387.15 429.71,388.5 429.71,389.3 429.99,390.65 430.55,391.45 431.4,391.72 431.96,391.72 432.8,391.45 433.36,390.65 433.64,389.3 433.64,388.5 433.36,387.15 432.8,386.35 431.96,386.08 431.4,386.08M440.22,385.01 435.56,392.53M442.46,386.08 442.46,391.72M442.46,386.08 444.99,386.08 445.83,386.35 446.11,386.62 446.39,387.15 446.39,387.96 446.11,388.5 445.83,388.77 444.99,389.03 442.46,389.03M453.21,387.42 452.93,386.89 452.37,386.35 451.81,386.08 450.68,386.08 450.12,386.35 449.56,386.89 449.28,387.42 449,388.23 449,389.57 449.28,390.38 449.56,390.91 450.12,391.45 450.68,391.72 451.81,391.72 452.37,391.45 452.93,390.91 453.21,390.38M455.87,386.08 455.87,391.72M458.8,386.08 458.8,391.72M458.8,386.08 462.74,391.72M462.74,386.08 462.74,391.72M466.98,386.08 466.98,391.72M465.01,386.08 468.95,386.08M474.27,386.08 471.46,386.08 471.18,388.5 471.46,388.23 472.3,387.96 473.15,387.96 473.99,388.23 474.55,388.77 474.83,389.57 474.83,390.11 474.55,390.91 473.99,391.45 473.15,391.72 472.3,391.72 471.46,391.45 471.18,391.18 470.9,390.65M476.79,385.01 477.44,385.59 478.1,386.47 478.42,387.35 478.75,388.53 478.75,389.41 478.42,390.58 478.1,391.46 477.44,392.34 476.79,392.93M352.24,384.87 382.64,384.87" stroke="#008484" stroke-width="1.3"/><text x="328.7" y="392.37" font-size="9.64" textLength="150.7" lengthAdjust="spacingAndGlyphs">PB5(RESET/dW/ADC0/PCINT5)</text>
<path d="M691.75,303.38 693.91,309.02M696.08,303.38 693.91,309.02M702.05,304.72 701.78,304.19 701.24,303.65 700.7,303.38 699.62,303.38 699.07,303.65 698.53,304.19 698.26,304.72 697.99,305.53 697.99,306.87 698.26,307.68 698.53,308.21 699.07,308.75 699.62,309.02 700.7,309.02 701.24,308.75 701.78,308.21 702.05,307.68M708.65,304.72 708.38,304.19 707.84,303.65 707.3,303.38 706.22,303.38 705.68,303.65 705.14,304.19 704.87,304.72 704.59,305.53 704.59,306.87 704.87,307.68 705.14,308.21 705.68,308.75 706.22,309.02 707.3,309.02 707.84,308.75 708.38,308.21 708.65,307.68" stroke="#008484" stroke-width="1.3"/><text x="691.1" y="309.67" font-size="9.64" textLength="18.2" lengthAdjust="spacingAndGlyphs">VCC</text>
<path d="M695.56,387.42 695.29,386.89 694.75,386.35 694.22,386.08 693.15,386.08 692.62,386.35 692.08,386.89 691.82,387.42 691.55,388.23 691.55,389.57 691.82,390.38 692.08,390.91 692.62,391.45 693.15,391.72 694.22,391.72 694.75,391.45 695.29,390.91 695.56,390.38 695.56,389.57M694.22,389.57 695.56,389.57M698.38,386.08 698.38,391.72M698.38,386.08 702.12,391.72M702.12,386.08 702.12,391.72M705.21,386.08 705.21,391.72M705.21,386.08 707.08,386.08 707.88,386.35 708.42,386.89 708.68,387.42 708.95,388.23 708.95,389.57 708.68,390.38 708.42,390.91 707.88,391.45 707.08,391.72 705.21,391.72" stroke="#008484" stroke-width="1.3"/><text x="690.9" y="392.37" font-size="9.64" textLength="18.7" lengthAdjust="spacingAndGlyphs">GND</text>
<path d="M310.89,297.78 307.81,297.78 307.51,300.2 307.81,299.93 308.74,299.66 309.66,299.66 310.58,299.93 311.19,300.47 311.5,301.27 311.5,301.81 311.19,302.61 310.58,303.15 309.66,303.42 308.74,303.42 307.81,303.15 307.51,302.88 307.2,302.35" stroke="#840000" stroke-width="1.2"/><text x="306.6" y="304.02" font-size="9.5" textLength="5.5" lengthAdjust="spacingAndGlyphs">5</text>
<path d="M311.17,315.09 310.84,314.55 309.85,314.28 309.18,314.28 308.19,314.55 307.53,315.35 307.2,316.7 307.2,318.04 307.53,319.11 308.19,319.65 309.18,319.92 309.52,319.92 310.51,319.65 311.17,319.11 311.5,318.31 311.5,318.04 311.17,317.23 310.51,316.7 309.52,316.43 309.18,316.43 308.19,316.7 307.53,317.23 307.2,318.04" stroke="#840000" stroke-width="1.2"/><text x="306.6" y="320.52" font-size="9.5" textLength="5.5" lengthAdjust="spacingAndGlyphs">6</text>
<path d="M311.5,330.78 308.43,336.42M307.2,330.78 311.5,330.78" stroke="#840000" stroke-width="1.2"/><text x="306.6" y="337.02" font-size="9.5" textLength="5.5" lengthAdjust="spacingAndGlyphs">7</text>
<path d="M307.51,348.62 307.51,348.35 307.81,347.82 308.12,347.55 308.74,347.28 309.96,347.28 310.58,347.55 310.89,347.82 311.19,348.35 311.19,348.89 310.89,349.43 310.27,350.23 307.2,352.92 311.5,352.92" stroke="#840000" stroke-width="1.2"/><text x="306.6" y="353.52" font-size="9.5" textLength="5.5" lengthAdjust="spacingAndGlyphs">2</text>
<path d="M307.81,363.88 311.19,363.88 309.35,366.03 310.27,366.03 310.89,366.3 311.19,366.57 311.5,367.37 311.5,367.91 311.19,368.71 310.58,369.25 309.66,369.52 308.74,369.52 307.81,369.25 307.51,368.98 307.2,368.45" stroke="#840000" stroke-width="1.2"/><text x="306.6" y="370.12" font-size="9.5" textLength="5.5" lengthAdjust="spacingAndGlyphs">3</text>
<path d="M307.2,381.5 308.06,381.24 309.35,380.43 309.35,386.07M307.2,386.07 311.5,386.07" stroke="#840000" stroke-width="1.2"/><text x="306.6" y="386.67" font-size="9.5" textLength="5.5" lengthAdjust="spacingAndGlyphs">1</text>
<path d="M727.99,298.08 727.21,298.35 726.96,298.89 726.96,299.42 727.21,299.96 727.73,300.23 728.76,300.5 729.53,300.77 730.04,301.3 730.3,301.84 730.3,302.65 730.04,303.18 729.79,303.45 729.01,303.72 727.99,303.72 727.21,303.45 726.96,303.18 726.7,302.65 726.7,301.84 726.96,301.3 727.47,300.77 728.24,300.5 729.27,300.23 729.79,299.96 730.04,299.42 730.04,298.89 729.79,298.35 729.01,298.08 727.99,298.08" stroke="#840000" stroke-width="1.2"/><text x="726.1" y="304.32" font-size="9.5" textLength="4.8" lengthAdjust="spacingAndGlyphs">8</text>
<path d="M729.43,380.73 726.5,384.49 730.9,384.49M729.43,380.73 729.43,386.37" stroke="#840000" stroke-width="1.2"/><text x="725.9" y="386.97" font-size="9.5" textLength="5.6" lengthAdjust="spacingAndGlyphs">4</text>
<path d="M757.2,281.7 757.2,265.2" stroke="#840000" stroke-width="1.3" style="stroke-linecap:round"/>
<path d="M752.4,273.5 757.2,265.2 762,273.5" stroke="#840000" stroke-width="1.3" style="stroke-linecap:round"/>
<path d="M749.73,256.74 749.73,261.98M746.88,259.36 752.59,259.36M759.95,254.87 756.33,254.87 755.97,258.24 756.33,257.87 757.42,257.49 758.5,257.49 759.59,257.87 760.31,258.61 760.67,259.73 760.67,260.48 760.31,261.6 759.59,262.35 758.5,262.73 757.42,262.73 756.33,262.35 755.97,261.98 755.61,261.23M763.24,254.87 766.13,262.73M769.03,254.87 766.13,262.73" stroke="#008484" stroke-width="1.35"/><text x="746.2" y="263.4" font-size="12.78" textLength="23.5" lengthAdjust="spacingAndGlyphs">+5V</text>
<path d="M765.8,421.3 765.8,429.6" stroke="#840000" stroke-width="1.3" style="stroke-linecap:round"/>
<path d="M758.2,429.6 773.4,429.6 765.8,437.2 758.2,429.6" stroke="#840000" stroke-width="1.3" style="stroke-linecap:round"/>
<path d="M760.04,444.09 759.7,443.35 759.04,442.6 758.38,442.22 757.06,442.22 756.4,442.6 755.74,443.35 755.41,444.09 755.07,445.22 755.07,447.08 755.41,448.21 755.74,448.95 756.4,449.7 757.06,450.08 758.38,450.08 759.04,449.7 759.7,448.95 760.04,448.21 760.04,447.08M758.38,447.08 760.04,447.08M763.54,442.22 763.54,450.08M763.54,442.22 768.16,450.08M768.16,442.22 768.16,450.08M772,442.22 772,450.08M772,442.22 774.31,442.22 775.3,442.6 775.96,443.35 776.29,444.09 776.62,445.22 776.62,447.08 776.29,448.21 775.96,448.95 775.3,449.7 774.31,450.08 772,450.08" stroke="#008484" stroke-width="1.35"/><text x="754.4" y="450.75" font-size="12.78" textLength="22.9" lengthAdjust="spacingAndGlyphs">GND</text>
<rect x="99.1" y="117.1" width="99.4" height="65.3" fill="none" stroke="#840000" stroke-width="1.3"/>
<path d="M129,133.4 134.5,133.4" stroke="#840000" stroke-width="1.3" style="stroke-linecap:round"/>
<path d="M164,133.4 172,133.4" stroke="#840000" stroke-width="1.3" style="stroke-linecap:round"/>
<circle cx="137.6" cy="133.4" r="2.9" fill="#fff" stroke="#840000" stroke-width="1.2"/>
<circle cx="160.9" cy="133.4" r="2.9" fill="#fff" stroke="#840000" stroke-width="1.2"/>
<path d="M129,150 134.5,150" stroke="#840000" stroke-width="1.3" style="stroke-linecap:round"/>
<path d="M164,150 172,150" stroke="#840000" stroke-width="1.3" style="stroke-linecap:round"/>
<circle cx="137.6" cy="150" r="2.9" fill="#fff" stroke="#840000" stroke-width="1.2"/>
<circle cx="160.9" cy="150" r="2.9" fill="#fff" stroke="#840000" stroke-width="1.2"/>
<path d="M129,166.5 134.5,166.5" stroke="#840000" stroke-width="1.3" style="stroke-linecap:round"/>
<path d="M164,166.5 172,166.5" stroke="#840000" stroke-width="1.3" style="stroke-linecap:round"/>
<circle cx="137.6" cy="166.5" r="2.9" fill="#fff" stroke="#840000" stroke-width="1.2"/>
<circle cx="160.9" cy="166.5" r="2.9" fill="#fff" stroke="#840000" stroke-width="1.2"/>
<path d="M101.25,105.55 101.25,112.45M101.25,105.55 105.56,112.45M105.56,105.55 105.56,112.45M109.63,106.86 110.27,106.53 111.24,105.55 111.24,112.45M109.63,112.45 112.85,112.45" stroke="#008484" stroke-width="1.3"/><text x="100.6" y="113.1" font-size="11.4" textLength="12.9" lengthAdjust="spacingAndGlyphs">N1</text>
<path d="M103.29,191.42 100.85,198.47M103.29,191.42 105.72,198.47M101.76,196.12 104.81,196.12M107.22,191.42 109.66,198.47M112.1,191.42 109.66,198.47M114.61,191.42 114.61,198.47M114.61,191.42 117.35,191.42 118.27,191.76 118.57,192.1 118.88,192.77 118.88,193.44 118.57,194.11 118.27,194.45 117.35,194.78 114.61,194.78M116.74,194.78 118.88,198.47M121.7,191.42 121.7,198.47M128.79,192.43 128.18,191.76 127.27,191.42 126.05,191.42 125.14,191.76 124.53,192.43 124.53,193.1 124.83,193.77 125.14,194.11 125.75,194.45 127.57,195.12 128.18,195.45 128.49,195.79 128.79,196.46 128.79,197.47 128.18,198.14 127.27,198.47 126.05,198.47 125.14,198.14 124.53,197.47M131.97,191.42 131.97,198.47M131.97,191.42 134.71,191.42 135.62,191.76 135.93,192.1 136.23,192.77 136.23,193.77 135.93,194.45 135.62,194.78 134.71,195.12 131.97,195.12M143.31,192.43 142.7,191.76 141.79,191.42 140.57,191.42 139.66,191.76 139.05,192.43 139.05,193.1 139.35,193.77 139.66,194.11 140.27,194.45 142.09,195.12 142.7,195.45 143.01,195.79 143.31,196.46 143.31,197.47 142.7,198.14 141.79,198.47 140.57,198.47 139.66,198.14 139.05,197.47M146.99,191.42 146.99,198.47M146.99,191.42 148.97,198.47M150.96,191.42 148.97,198.47M150.96,191.42 150.96,198.47M154.99,191.42 154.99,198.47M154.99,191.42 157.12,191.42 158.03,191.76 158.64,192.43 158.95,193.1 159.25,194.11 159.25,195.79 158.95,196.8 158.64,197.47 158.03,198.14 157.12,198.47 154.99,198.47" stroke="#008484" stroke-width="1.3"/><text x="100.2" y="199.12" font-size="11.6" textLength="59.7" lengthAdjust="spacingAndGlyphs">AVRISPSMD</text>
<path d="M109.53,122.32 109.53,128.38M109.53,122.32 111.47,128.38M113.42,122.32 111.47,128.38M113.42,122.32 113.42,128.38M117.03,122.32 117.03,128.38M123.98,123.18 123.38,122.61 122.49,122.32 121.29,122.32 120.4,122.61 119.8,123.18 119.8,123.76 120.1,124.34 120.4,124.63 120.99,124.92 122.79,125.49 123.38,125.78 123.68,126.07 123.98,126.65 123.98,127.52 123.38,128.09 122.49,128.38 121.29,128.38 120.4,128.09 119.8,127.52M128.59,122.32 127.99,122.61 127.39,123.18 127.09,123.76 126.8,124.63 126.8,126.07 127.09,126.94 127.39,127.52 127.99,128.09 128.59,128.38 129.78,128.38 130.38,128.09 130.98,127.52 131.28,126.94 131.57,126.07 131.57,124.63 131.28,123.76 130.98,123.18 130.38,122.61 129.78,122.32 128.59,122.32" stroke="#840000" stroke-width="1.25"/><text x="108.9" y="129.01" font-size="10.16" textLength="23.3" lengthAdjust="spacingAndGlyphs">MISO</text>
<path d="M113.19,139.83 112.67,139.26 111.88,138.97 110.83,138.97 110.05,139.26 109.53,139.83 109.53,140.41 109.79,140.99 110.05,141.28 110.57,141.57 112.14,142.14 112.67,142.43 112.93,142.72 113.19,143.3 113.19,144.17 112.67,144.74 111.88,145.03 110.83,145.03 110.05,144.74 109.53,144.17M119.54,140.41 119.28,139.83 118.75,139.26 118.23,138.97 117.18,138.97 116.66,139.26 116.14,139.83 115.87,140.41 115.61,141.28 115.61,142.72 115.87,143.59 116.14,144.17 116.66,144.74 117.18,145.03 118.23,145.03 118.75,144.74 119.28,144.17 119.54,143.59M122.31,138.97 122.31,145.03M125.97,138.97 122.31,143.01M123.62,141.57 125.97,145.03" stroke="#840000" stroke-width="1.25"/><text x="108.9" y="145.66" font-size="10.16" textLength="17.7" lengthAdjust="spacingAndGlyphs">SCK</text>
<path d="M109.53,155.72 109.53,161.78M109.53,155.72 112.07,155.72 112.92,156.01 113.2,156.3 113.48,156.87 113.48,157.45 113.2,158.03 112.92,158.32 112.07,158.61 109.53,158.61M111.5,158.61 113.48,161.78M120.06,156.58 119.49,156.01 118.64,155.72 117.51,155.72 116.67,156.01 116.1,156.58 116.1,157.16 116.38,157.74 116.67,158.03 117.23,158.32 118.93,158.89 119.49,159.18 119.78,159.47 120.06,160.05 120.06,160.92 119.49,161.49 118.64,161.78 117.51,161.78 116.67,161.49 116.1,160.92M124,155.72 124,161.78M122.02,155.72 125.97,155.72" stroke="#840000" stroke-width="1.25"/><text x="108.9" y="162.41" font-size="10.16" textLength="17.7" lengthAdjust="spacingAndGlyphs">RST</text>
<path d="M191.43,122.32 193.47,128.38M195.51,122.32 193.47,128.38M201.14,123.76 200.89,123.18 200.38,122.61 199.87,122.32 198.85,122.32 198.34,122.61 197.83,123.18 197.57,123.76 197.32,124.63 197.32,126.07 197.57,126.94 197.83,127.52 198.34,128.09 198.85,128.38 199.87,128.38 200.38,128.09 200.89,127.52 201.14,126.94M207.38,123.76 207.12,123.18 206.61,122.61 206.1,122.32 205.08,122.32 204.57,122.61 204.06,123.18 203.8,123.76 203.55,124.63 203.55,126.07 203.8,126.94 204.06,127.52 204.57,128.09 205.08,128.38 206.1,128.38 206.61,128.09 207.12,127.52 207.38,126.94" stroke="#840000" stroke-width="1.25"/><text x="190.8" y="129.01" font-size="10.16" textLength="17.2" lengthAdjust="spacingAndGlyphs">VCC</text>
<path d="M191.43,138.97 191.43,145.03M191.43,138.97 193.37,145.03M195.31,138.97 193.37,145.03M195.31,138.97 195.31,145.03M200.74,138.97 200.15,139.26 199.55,139.83 199.25,140.41 198.96,141.28 198.96,142.72 199.25,143.59 199.55,144.17 200.15,144.74 200.74,145.03 201.94,145.03 202.53,144.74 203.13,144.17 203.43,143.59 203.73,142.72 203.73,141.28 203.43,140.41 203.13,139.83 202.53,139.26 201.94,138.97 200.74,138.97M210.71,139.83 210.11,139.26 209.22,138.97 208.02,138.97 207.13,139.26 206.53,139.83 206.53,140.41 206.83,140.99 207.13,141.28 207.73,141.57 209.52,142.14 210.11,142.43 210.41,142.72 210.71,143.3 210.71,144.17 210.11,144.74 209.22,145.03 208.02,145.03 207.13,144.74 206.53,144.17M213.47,138.97 213.47,145.03" stroke="#840000" stroke-width="1.25"/><text x="190.8" y="145.66" font-size="10.16" textLength="23.3" lengthAdjust="spacingAndGlyphs">MOSI</text>
<path d="M194.74,157.16 194.47,156.58 193.94,156.01 193.4,155.72 192.33,155.72 191.8,156.01 191.26,156.58 190.99,157.16 190.72,158.03 190.72,159.47 190.99,160.34 191.26,160.92 191.8,161.49 192.33,161.78 193.4,161.78 193.94,161.49 194.47,160.92 194.74,160.34 194.74,159.47M193.4,159.47 194.74,159.47M197.58,155.72 197.58,161.78M197.58,155.72 201.32,161.78M201.32,155.72 201.32,161.78M204.43,155.72 204.43,161.78M204.43,155.72 206.3,155.72 207.1,156.01 207.64,156.58 207.91,157.16 208.18,158.03 208.18,159.47 207.91,160.34 207.64,160.92 207.1,161.49 206.3,161.78 204.43,161.78" stroke="#840000" stroke-width="1.25"/><text x="190.1" y="162.41" font-size="10.16" textLength="18.7" lengthAdjust="spacingAndGlyphs">GND</text>
<path d="M214.8,91.6 214.8,75.1" stroke="#840000" stroke-width="1.3" style="stroke-linecap:round"/>
<path d="M210,83.4 214.8,75.1 219.6,83.4" stroke="#840000" stroke-width="1.3" style="stroke-linecap:round"/>
<path d="M206.78,67.34 206.78,72.58M203.88,69.96 209.69,69.96M217.19,65.47 213.5,65.47 213.14,68.84 213.5,68.47 214.61,68.09 215.71,68.09 216.82,68.47 217.55,69.21 217.92,70.33 217.92,71.08 217.55,72.2 216.82,72.95 215.71,73.33 214.61,73.33 213.5,72.95 213.14,72.58 212.77,71.83M220.53,65.47 223.48,73.33M226.42,65.47 223.48,73.33" stroke="#008484" stroke-width="1.35"/><text x="203.2" y="74" font-size="12.78" textLength="23.9" lengthAdjust="spacingAndGlyphs">+5V</text>
<path d="M214.8,199.2 214.8,207.5" stroke="#840000" stroke-width="1.3" style="stroke-linecap:round"/>
<path d="M207.2,207.5 222.4,207.5 214.8,215.1 207.2,207.5" stroke="#840000" stroke-width="1.3" style="stroke-linecap:round"/>
<path d="M209.03,221.99 208.69,221.25 208.02,220.5 207.34,220.12 206,220.12 205.32,220.5 204.65,221.25 204.31,221.99 203.98,223.12 203.98,224.98 204.31,226.11 204.65,226.85 205.32,227.6 206,227.98 207.34,227.98 208.02,227.6 208.69,226.85 209.03,226.11 209.03,224.98M207.34,224.98 209.03,224.98M212.59,220.12 212.59,227.98M212.59,220.12 217.31,227.98M217.31,220.12 217.31,227.98M221.21,220.12 221.21,227.98M221.21,220.12 223.57,220.12 224.58,220.5 225.25,221.25 225.59,221.99 225.92,223.12 225.92,224.98 225.59,226.11 225.25,226.85 224.58,227.6 223.57,227.98 221.21,227.98" stroke="#008484" stroke-width="1.35"/><text x="203.3" y="228.65" font-size="12.78" textLength="23.3" lengthAdjust="spacingAndGlyphs">GND</text>
<path d="M362.5,121.7 362.5,144.8" stroke="#840000" stroke-width="1.3" style="stroke-linecap:round"/>
<path d="M362.5,154.7 362.5,177.5" stroke="#840000" stroke-width="1.3" style="stroke-linecap:round"/>
<path d="M349.6,144.8 375.8,144.8" stroke="#840000" stroke-width="2.9" style="stroke-linecap:round"/>
<path d="M349.6,154.7 375.8,154.7" stroke="#840000" stroke-width="2.9" style="stroke-linecap:round"/>
<path d="M373.28,131.61 372.94,130.88 372.26,130.16 371.57,129.79 370.2,129.79 369.52,130.16 368.83,130.88 368.49,131.61 368.15,132.69 368.15,134.51 368.49,135.59 368.83,136.32 369.52,137.04 370.2,137.41 371.57,137.41 372.26,137.04 372.94,136.32 373.28,135.59M377.47,131.24 378.19,130.88 379.26,129.79 379.26,137.41M377.47,137.41 381.05,137.41" stroke="#008484" stroke-width="1.3"/><text x="367.5" y="138.06" font-size="12.38" textLength="14.2" lengthAdjust="spacingAndGlyphs">C1</text>
<path d="M368.75,164.04 369.44,163.68 370.48,162.59 370.48,170.21M368.75,170.21 372.21,170.21M375.79,165.13 375.79,168.76 376.12,169.84 376.78,170.21 377.77,170.21 378.43,169.84 379.43,168.76M379.43,165.13 379.43,170.21M383.15,162.59 383.15,170.21M383.15,162.59 387.45,162.59M383.15,166.22 385.8,166.22" stroke="#008484" stroke-width="1.3"/><text x="368.1" y="170.86" font-size="12.38" textLength="20" lengthAdjust="spacingAndGlyphs">1uF</text>
<path d="M362.6,92 362.6,75.5" stroke="#840000" stroke-width="1.3" style="stroke-linecap:round"/>
<path d="M357.8,83.8 362.6,75.5 367.4,83.8" stroke="#840000" stroke-width="1.3" style="stroke-linecap:round"/>
<path d="M355.5,67.34 355.5,72.58M352.68,69.96 358.33,69.96M365.63,65.47 362.05,65.47 361.69,68.84 362.05,68.47 363.12,68.09 364.2,68.09 365.27,68.47 365.99,69.21 366.35,70.33 366.35,71.08 365.99,72.2 365.27,72.95 364.2,73.33 363.12,73.33 362.05,72.95 361.69,72.58 361.33,71.83M368.89,65.47 371.76,73.33M374.62,65.47 371.76,73.33" stroke="#008484" stroke-width="1.35"/><text x="352" y="74" font-size="12.78" textLength="23.3" lengthAdjust="spacingAndGlyphs">+5V</text>
<path d="M362.5,199.1 362.5,207.4" stroke="#840000" stroke-width="1.3" style="stroke-linecap:round"/>
<path d="M354.9,207.4 370.1,207.4 362.5,215 354.9,207.4" stroke="#840000" stroke-width="1.3" style="stroke-linecap:round"/>
<path d="M356.93,221.84 356.59,221.1 355.92,220.35 355.24,219.97 353.9,219.97 353.22,220.35 352.55,221.1 352.21,221.84 351.88,222.97 351.88,224.83 352.21,225.96 352.55,226.7 353.22,227.45 353.9,227.83 355.24,227.83 355.92,227.45 356.59,226.7 356.93,225.96 356.93,224.83M355.24,224.83 356.93,224.83M360.49,219.97 360.49,227.83M360.49,219.97 365.21,227.83M365.21,219.97 365.21,227.83M369.11,219.97 369.11,227.83M369.11,219.97 371.47,219.97 372.48,220.35 373.15,221.1 373.49,221.84 373.82,222.97 373.82,224.83 373.49,225.96 373.15,226.7 372.48,227.45 371.47,227.83 369.11,227.83" stroke="#008484" stroke-width="1.35"/><text x="351.2" y="228.5" font-size="12.78" textLength="23.3" lengthAdjust="spacingAndGlyphs">GND</text>
<path d="M422.8,67.4 457.5,67.4 461.8,75.7 457.5,84.3 422.8,84.3 422.8,67.4" stroke="#840000" stroke-width="1.4" style="stroke-linecap:round"/>
<path d="M428.18,71.02 428.18,80.18M428.18,71.02 431.84,71.02 433.07,71.45 433.47,71.89 433.88,72.76 433.88,74.07 433.47,74.95 433.07,75.38 431.84,75.82 428.18,75.82M438.13,71.02 438.13,80.18M438.13,71.02 441.8,71.02 443.02,71.45 443.43,71.89 443.84,72.76 443.84,73.64 443.43,74.51 443.02,74.95 441.8,75.38M438.13,75.38 441.8,75.38 443.02,75.82 443.43,76.25 443.84,77.13 443.84,78.44 443.43,79.31 443.02,79.75 441.8,80.18 438.13,80.18M451.69,71.02 447.61,77.13 453.72,77.13M451.69,71.02 451.69,80.18" stroke="#840000" stroke-width="1.35"/><text x="427.5" y="80.86" font-size="14.6" textLength="26.9" lengthAdjust="spacingAndGlyphs">PB4</text>
<path d="M733.2,59.4 738.2,50.65 771.8,50.65 771.8,68.15 738.2,68.15 733.2,59.4" stroke="#840000" stroke-width="1.4" style="stroke-linecap:round"/>
<path d="M740.27,54.72 740.27,63.88M740.27,54.72 744.08,54.72 745.34,55.15 745.77,55.59 746.19,56.46 746.19,57.77 745.77,58.65 745.34,59.08 744.08,59.52 740.27,59.52M750.59,54.72 750.59,63.88M750.59,54.72 754.39,54.72 755.66,55.15 756.08,55.59 756.5,56.46 756.5,57.34 756.08,58.21 755.66,58.65 754.39,59.08M750.59,59.08 754.39,59.08 755.66,59.52 756.08,59.95 756.5,60.83 756.5,62.14 756.08,63.01 755.66,63.45 754.39,63.88 750.59,63.88M761.26,54.72 765.9,54.72 763.37,58.21 764.64,58.21 765.48,58.65 765.9,59.08 766.33,60.39 766.33,61.26 765.9,62.57 765.06,63.45 763.79,63.88 762.52,63.88 761.26,63.45 760.83,63.01 760.41,62.14" stroke="#840000" stroke-width="1.35"/><text x="739.6" y="64.56" font-size="14.6" textLength="27.4" lengthAdjust="spacingAndGlyphs">PB3</text>
<path d="M143.1,346.7 177.9,346.7 181.8,355.3 177.9,363.1 143.1,363.1 143.1,346.7" stroke="#840000" stroke-width="1.4" style="stroke-linecap:round"/>
<path d="M148.58,350.42 148.58,359.58M148.58,350.42 152.25,350.42 153.47,350.85 153.88,351.29 154.28,352.16 154.28,353.47 153.88,354.35 153.47,354.78 152.25,355.22 148.58,355.22M158.53,350.42 158.53,359.58M158.53,350.42 162.2,350.42 163.43,350.85 163.83,351.29 164.24,352.16 164.24,353.04 163.83,353.91 163.43,354.35 162.2,354.78M158.53,354.78 162.2,354.78 163.43,355.22 163.83,355.65 164.24,356.53 164.24,357.84 163.83,358.71 163.43,359.15 162.2,359.58 158.53,359.58M168.83,350.42 173.32,350.42 170.87,353.91 172.09,353.91 172.91,354.35 173.32,354.78 173.72,356.09 173.72,356.96 173.32,358.27 172.5,359.15 171.28,359.58 170.05,359.58 168.83,359.15 168.42,358.71 168.02,357.84" stroke="#840000" stroke-width="1.35"/><text x="147.9" y="360.26" font-size="14.6" textLength="26.5" lengthAdjust="spacingAndGlyphs">PB3</text>
<path d="M143.1,363.9 177.9,363.9 181.8,371.9 177.9,380.7 143.1,380.7 143.1,363.9" stroke="#840000" stroke-width="1.4" style="stroke-linecap:round"/>
<path d="M148.58,367.32 148.58,376.48M148.58,367.32 152.26,367.32 153.49,367.75 153.9,368.19 154.3,369.06 154.3,370.37 153.9,371.25 153.49,371.68 152.26,372.12 148.58,372.12M158.57,367.32 158.57,376.48M158.57,367.32 162.25,367.32 163.48,367.75 163.89,368.19 164.3,369.06 164.3,369.94 163.89,370.81 163.48,371.25 162.25,371.68M158.57,371.68 162.25,371.68 163.48,372.12 163.89,372.55 164.3,373.43 164.3,374.74 163.89,375.61 163.48,376.05 162.25,376.48 158.57,376.48M172.18,367.32 168.09,373.43 174.22,373.43M172.18,367.32 172.18,376.48" stroke="#840000" stroke-width="1.35"/><text x="147.9" y="377.16" font-size="14.6" textLength="27" lengthAdjust="spacingAndGlyphs">PB4</text>
<rect x="543.6" y="42.9" width="98.6" height="49" fill="none" stroke="#840000" stroke-width="1.3"/>
<path d="M571.5,59.4 578.5,59.4" stroke="#840000" stroke-width="1.3" style="stroke-linecap:round"/>
<path d="M608,59.4 615,59.4" stroke="#840000" stroke-width="1.3" style="stroke-linecap:round"/>
<circle cx="581.6" cy="59.4" r="2.9" fill="#fff" stroke="#840000" stroke-width="1.2"/>
<circle cx="604.9" cy="59.4" r="2.9" fill="#fff" stroke="#840000" stroke-width="1.2"/>
<path d="M571.5,75.6 578.5,75.6" stroke="#840000" stroke-width="1.3" style="stroke-linecap:round"/>
<path d="M608,75.6 615,75.6" stroke="#840000" stroke-width="1.3" style="stroke-linecap:round"/>
<circle cx="581.6" cy="75.6" r="2.9" fill="#fff" stroke="#840000" stroke-width="1.2"/>
<circle cx="604.9" cy="75.6" r="2.9" fill="#fff" stroke="#840000" stroke-width="1.2"/>
<path d="M545.38,30.98 545.38,38.03M545.38,30.98 549.77,38.03M549.77,30.98 549.77,38.03M553.66,30.98 557.11,30.98 555.23,33.66 556.17,33.66 556.8,34 557.11,34.33 557.43,35.34 557.43,36.01 557.11,37.02 556.48,37.69 555.54,38.03 554.6,38.03 553.66,37.69 553.35,37.35 553.03,36.68" stroke="#008484" stroke-width="1.35"/><text x="544.7" y="38.7" font-size="11.67" textLength="13.4" lengthAdjust="spacingAndGlyphs">N3</text>
<path d="M545.88,101.32 545.88,108.38M545.88,101.32 548.74,101.32 549.69,101.66 550.01,102 550.33,102.67 550.33,103.67 550.01,104.35 549.69,104.68 548.74,105.02 545.88,105.02M553.29,101.32 553.29,108.38M556.61,101.32 556.61,108.38M556.61,101.32 561.07,108.38M561.07,101.32 561.07,108.38M564.75,101.32 564.75,108.38M569.21,101.32 569.21,108.38M564.75,104.68 569.21,104.68M572.9,101.32 572.9,108.38M572.9,101.32 575.12,101.32 576.08,101.66 576.72,102.33 577.03,103 577.35,104.01 577.35,105.69 577.03,106.7 576.72,107.37 576.08,108.04 575.12,108.38 572.9,108.38M579.94,105.35 585.12,105.35M588.02,103 588.02,102.67 588.34,102 588.66,101.66 589.29,101.32 590.57,101.32 591.2,101.66 591.52,102 591.84,102.67 591.84,103.34 591.52,104.01 590.88,105.02 587.7,108.38 592.16,108.38M595.1,101.32 599.56,108.38M599.56,101.32 595.1,108.38M602.82,103 602.82,102.67 603.14,102 603.46,101.66 604.1,101.32 605.37,101.32 606.01,101.66 606.33,102 606.64,102.67 606.64,103.34 606.33,104.01 605.69,105.02 602.51,108.38 606.96,108.38M609.55,105.35 614.73,105.35M621.77,102.33 621.13,101.66 620.18,101.32 618.9,101.32 617.95,101.66 617.31,102.33 617.31,103 617.63,103.67 617.95,104.01 618.59,104.35 620.5,105.02 621.13,105.35 621.45,105.69 621.77,106.36 621.77,107.37 621.13,108.04 620.18,108.38 618.9,108.38 617.95,108.04 617.31,107.37M625.61,101.32 625.61,108.38M625.61,101.32 627.68,108.38M629.76,101.32 627.68,108.38M629.76,101.32 629.76,108.38M633.97,101.32 633.97,108.38M633.97,101.32 636.2,101.32 637.15,101.66 637.79,102.33 638.11,103 638.43,104.01 638.43,105.69 638.11,106.7 637.79,107.37 637.15,108.04 636.2,108.38 633.97,108.38" stroke="#008484" stroke-width="1.35"/><text x="545.2" y="109.05" font-size="11.67" textLength="93.9" lengthAdjust="spacingAndGlyphs">PINHD-2X2-SMD</text>
<path d="M590.44,57.86 590.44,57.55 590.77,56.92 591.11,56.6 591.78,56.29 593.12,56.29 593.79,56.6 594.13,56.92 594.46,57.55 594.46,58.18 594.13,58.81 593.46,59.76 590.1,62.91 594.8,62.91" stroke="#008484" stroke-width="1.2"/><text x="589.5" y="63.51" font-size="10.87" textLength="5.9" lengthAdjust="spacingAndGlyphs">2</text>
<path d="M591.8,57.55 592.68,57.23 594,56.29 594,62.91M591.8,62.91 596.2,62.91" stroke="#008484" stroke-width="1.2"/><text x="591.2" y="63.51" font-size="10.87" textLength="5.6" lengthAdjust="spacingAndGlyphs">1</text>
<path d="M593.17,72.49 589.9,76.9 594.8,76.9M593.17,72.49 593.17,79.11" stroke="#008484" stroke-width="1.2"/><text x="589.3" y="79.71" font-size="10.87" textLength="6.1" lengthAdjust="spacingAndGlyphs">4</text>
<path d="M592.26,72.49 595.87,72.49 593.9,75.01 594.89,75.01 595.54,75.33 595.87,75.64 596.2,76.59 596.2,77.22 595.87,78.17 595.21,78.8 594.23,79.11 593.24,79.11 592.26,78.8 591.93,78.48 591.6,77.85" stroke="#008484" stroke-width="1.2"/><text x="591" y="79.71" font-size="10.87" textLength="5.8" lengthAdjust="spacingAndGlyphs">3</text>
<path d="M667,31.3 667,26.8" stroke="#840000" stroke-width="1.3" style="stroke-linecap:round"/>
<circle cx="667" cy="23" r="3.7" fill="#fff" stroke="#840000" stroke-width="1.3"/>
<path d="M656.67,6.17 659.32,14.03M661.96,6.17 659.32,14.03M669.26,8.04 668.93,7.3 668.27,6.55 667.61,6.17 666.29,6.17 665.62,6.55 664.96,7.3 664.63,8.04 664.3,9.17 664.3,11.03 664.63,12.16 664.96,12.9 665.62,13.65 666.29,14.03 667.61,14.03 668.27,13.65 668.93,12.9 669.26,12.16M677.33,8.04 676.99,7.3 676.33,6.55 675.67,6.17 674.35,6.17 673.69,6.55 673.03,7.3 672.7,8.04 672.37,9.17 672.37,11.03 672.7,12.16 673.03,12.9 673.69,13.65 674.35,14.03 675.67,14.03 676.33,13.65 676.99,12.9 677.33,12.16" stroke="#008484" stroke-width="1.35"/><text x="656" y="14.7" font-size="12.78" textLength="22" lengthAdjust="spacingAndGlyphs">VCC</text>
<path d="M542,157.8 551.6,157.8" stroke="#840000" stroke-width="1.3" style="stroke-linecap:round"/>
<path d="M634.3,157.8 645.6,157.8" stroke="#840000" stroke-width="1.3" style="stroke-linecap:round"/>
<path d="M593,182.7 593,192.8" stroke="#840000" stroke-width="1.3" style="stroke-linecap:round"/>
<path d="M551.62,154.29 551.62,160.91M554.77,154.29 554.77,160.91M554.77,154.29 558.98,160.91M558.98,154.29 558.98,160.91" stroke="#008484" stroke-width="1.25"/><text x="551" y="161.54" font-size="10.94" textLength="8.6" lengthAdjust="spacingAndGlyphs">IN</text>
<path d="M619.99,154.29 619.5,154.6 619.01,155.23 618.77,155.86 618.52,156.81 618.52,158.39 618.77,159.34 619.01,159.97 619.5,160.6 619.99,160.91 620.97,160.91 621.46,160.6 621.95,159.97 622.2,159.34 622.44,158.39 622.44,156.81 622.2,155.86 621.95,155.23 621.46,154.6 620.97,154.29 619.99,154.29M625.04,154.29 625.04,159.02 625.28,159.97 625.77,160.6 626.5,160.91 626.99,160.91 627.73,160.6 628.22,159.97 628.46,159.02 628.46,154.29M632.16,154.29 632.16,160.91M630.45,154.29 633.88,154.29" stroke="#008484" stroke-width="1.25"/><text x="617.9" y="161.54" font-size="10.94" textLength="16.6" lengthAdjust="spacingAndGlyphs">OUT</text>
<path d="M591.31,178.63 590.65,178.89 590,179.42 589.67,179.94 589.67,181 590,181.52 590.65,182.05 591.31,182.31 592.28,182.57 593.92,182.57 594.89,182.31 595.55,182.05 596.2,181.52 596.53,181 596.53,179.94 596.2,179.42 595.55,178.89 594.89,178.63 593.92,178.63M593.92,179.94 593.92,178.63M589.67,175.84 596.53,175.84M589.67,175.84 596.53,172.16M589.67,172.16 596.53,172.16M589.67,169.11 596.53,169.11M589.67,169.11 589.67,167.27 590,166.48 590.65,165.95 591.31,165.69 592.28,165.43 593.92,165.43 594.89,165.69 595.55,165.95 596.2,166.48 596.53,167.27 596.53,169.11" stroke="#008484" stroke-width="1.25"/><text transform="translate(597.15,183.2) rotate(-90)" font-size="11.25" textLength="18.4" lengthAdjust="spacingAndGlyphs">GND</text>
<rect x="551.6" y="141.4" width="82.7" height="41.4" fill="none" stroke="#840000" stroke-width="1.3"/>
<path d="M542.03,151.06 542.03,150.75 542.33,150.12 542.64,149.8 543.24,149.49 544.46,149.49 545.06,149.8 545.37,150.12 545.67,150.75 545.67,151.38 545.37,152.01 544.76,152.96 541.73,156.11 545.98,156.11" stroke="#840000" stroke-width="1.25"/><text x="541.1" y="156.74" font-size="10.94" textLength="5.5" lengthAdjust="spacingAndGlyphs">2</text>
<path d="M640.02,150.75 640.88,150.43 642.15,149.49 642.15,156.11M640.02,156.11 644.27,156.11" stroke="#840000" stroke-width="1.25"/><text x="639.4" y="156.74" font-size="10.94" textLength="5.5" lengthAdjust="spacingAndGlyphs">1</text>
<path d="M584.63,192.21 584.63,188.56 587.04,190.55 587.04,189.55 587.35,188.89 587.65,188.56 588.56,188.22 589.16,188.22 590.07,188.56 590.67,189.22 590.97,190.22 590.97,191.21 590.67,192.21 590.37,192.54 589.76,192.88" stroke="#840000" stroke-width="1.25"/><text transform="translate(591.6,193.5) rotate(-90)" font-size="10.55" textLength="5.9" lengthAdjust="spacingAndGlyphs">3</text>
<path d="M553.05,191.42 553.05,198.47M560.96,193.1 560.63,192.43 559.98,191.76 559.33,191.42 558.03,191.42 557.37,191.76 556.72,192.43 556.4,193.1 556.07,194.11 556.07,195.79 556.4,196.8 556.72,197.47 557.37,198.14 558.03,198.47 559.33,198.47 559.98,198.14 560.63,197.47 560.96,196.8M564.94,192.77 565.62,192.43 566.65,191.42 566.65,198.47M564.94,198.47 568.35,198.47" stroke="#008484" stroke-width="1.3"/><text x="552.4" y="199.12" font-size="11.6" textLength="16.6" lengthAdjust="spacingAndGlyphs">IC1</text>
<path d="M602.55,191.46 602.55,198.94M602.55,191.46 605.3,191.46 606.22,191.82 606.52,192.18 606.83,192.89 606.83,193.6 606.52,194.31 606.22,194.67 605.3,195.02 602.55,195.02M604.69,195.02 606.83,198.94M609.96,191.46 609.96,198.94M609.96,191.46 613.93,191.46M609.96,195.02 612.4,195.02M609.96,198.94 613.93,198.94M620.99,193.24 620.68,192.53 620.07,191.82 619.46,191.46 618.24,191.46 617.63,191.82 617.01,192.53 616.71,193.24 616.4,194.31 616.4,196.09 616.71,197.16 617.01,197.87 617.63,198.58 618.24,198.94 619.46,198.94 620.07,198.58 620.68,197.87 620.99,197.16 620.99,196.09M619.46,196.09 620.99,196.09M624.22,191.46 624.22,196.8 624.52,197.87 625.13,198.58 626.05,198.94 626.66,198.94 627.58,198.58 628.19,197.87 628.49,196.8 628.49,191.46M631.98,191.46 631.98,198.94M631.98,198.94 635.65,198.94M639.5,191.46 637.06,198.94M639.5,191.46 641.94,198.94M637.97,196.45 641.03,196.45M645.54,191.46 645.54,198.94M643.4,191.46 647.68,191.46M651.68,191.46 651.06,191.82 650.45,192.53 650.15,193.24 649.84,194.31 649.84,196.09 650.15,197.16 650.45,197.87 651.06,198.58 651.68,198.94 652.9,198.94 653.51,198.58 654.12,197.87 654.42,197.16 654.73,196.09 654.73,194.31 654.42,193.24 654.12,192.53 653.51,191.82 652.9,191.46 651.68,191.46M657.96,191.46 657.96,198.94M657.96,191.46 660.71,191.46 661.63,191.82 661.93,192.18 662.24,192.89 662.24,193.6 661.93,194.31 661.63,194.67 660.71,195.02 657.96,195.02M660.1,195.02 662.24,198.94M669.34,192.53 668.73,191.82 667.82,191.46 666.59,191.46 665.68,191.82 665.07,192.53 665.07,193.24 665.37,193.95 665.68,194.31 666.29,194.67 668.12,195.38 668.73,195.73 669.04,196.09 669.34,196.8 669.34,197.87 668.73,198.58 667.82,198.94 666.59,198.94 665.68,198.58 665.07,197.87M674.05,191.46 673.44,191.82 672.83,192.53 672.53,193.24 672.22,194.31 672.22,196.09 672.53,197.16 672.83,197.87 673.44,198.58 674.05,198.94 675.28,198.94 675.89,198.58 676.5,197.87 676.8,197.16 677.11,196.09 677.11,194.31 676.8,193.24 676.5,192.53 675.89,191.82 675.28,191.46 674.05,191.46M681.41,191.46 681.41,198.94M679.28,191.46 683.55,191.46M685.97,193.24 685.97,192.89 686.28,192.18 686.59,191.82 687.2,191.46 688.42,191.46 689.03,191.82 689.33,192.18 689.64,192.89 689.64,193.6 689.33,194.31 688.72,195.38 685.67,198.94 689.95,198.94M693.38,191.46 696.74,191.46 694.91,194.31 695.83,194.31 696.44,194.67 696.74,195.02 697.05,196.09 697.05,196.8 696.74,197.87 696.13,198.58 695.22,198.94 694.3,198.94 693.38,198.58 693.08,198.22 692.77,197.51" stroke="#008484" stroke-width="1.3"/><text x="601.9" y="199.59" font-size="12.18" textLength="95.8" lengthAdjust="spacingAndGlyphs">REGULATORSOT23</text>
<path d="M672.95,148.89 672.95,155.28M669.5,152.08 676.41,152.08M685.32,146.61 680.94,146.61 680.51,150.72 680.94,150.26 682.26,149.8 683.57,149.8 684.88,150.26 685.76,151.17 686.19,152.54 686.19,153.45 685.76,154.82 684.88,155.74 683.57,156.19 682.26,156.19 680.94,155.74 680.51,155.28 680.07,154.37M689.3,146.61 692.8,156.19M696.3,146.61 692.8,156.19" stroke="#000098" stroke-width="1.4"/><text x="668.8" y="156.89" font-size="15.26" textLength="28.2" lengthAdjust="spacingAndGlyphs">+5V</text>
<path d="M700.3,125.8 700.3,109.3" stroke="#840000" stroke-width="1.3" style="stroke-linecap:round"/>
<path d="M695.5,117.6 700.3,109.3 705.1,117.6" stroke="#840000" stroke-width="1.3" style="stroke-linecap:round"/>
<path d="M692.42,100.64 692.42,105.88M689.47,103.26 695.37,103.26M702.96,98.77 699.23,98.77 698.86,102.14 699.23,101.77 700.35,101.39 701.47,101.39 702.59,101.77 703.34,102.51 703.71,103.63 703.71,104.38 703.34,105.5 702.59,106.25 701.47,106.63 700.35,106.63 699.23,106.25 698.86,105.88 698.49,105.13M706.36,98.77 709.34,106.63M712.33,98.77 709.34,106.63" stroke="#008484" stroke-width="1.35"/><text x="688.8" y="107.3" font-size="12.78" textLength="24.2" lengthAdjust="spacingAndGlyphs">+5V</text>
<path d="M700.3,119.8 700.3,126" stroke="#008400" stroke-width="1.3" style="stroke-linecap:square"/>
<path d="M552.1,223.7 552.1,231.8" stroke="#840000" stroke-width="1.3" style="stroke-linecap:round"/>
<path d="M552.1,231.8 552.1,240.1" stroke="#840000" stroke-width="1.3" style="stroke-linecap:round"/>
<path d="M544.5,240.1 559.7,240.1 552.1,247.7 544.5,240.1" stroke="#840000" stroke-width="1.3" style="stroke-linecap:round"/>
<path d="M546.03,254.59 545.69,253.85 545.02,253.1 544.34,252.72 543,252.72 542.32,253.1 541.65,253.85 541.31,254.59 540.97,255.72 540.97,257.58 541.31,258.71 541.65,259.45 542.32,260.2 543,260.58 544.34,260.58 545.02,260.2 545.69,259.45 546.03,258.71 546.03,257.58M544.34,257.58 546.03,257.58M549.59,252.72 549.59,260.58M549.59,252.72 554.31,260.58M554.31,252.72 554.31,260.58M558.21,252.72 558.21,260.58M558.21,252.72 560.57,252.72 561.58,253.1 562.25,253.85 562.59,254.59 562.93,255.72 562.93,257.58 562.59,258.71 562.25,259.45 561.58,260.2 560.57,260.58 558.21,260.58" stroke="#008484" stroke-width="1.35"/><text x="540.3" y="261.25" font-size="12.78" textLength="23.3" lengthAdjust="spacingAndGlyphs">GND</text>
<circle cx="552.1" cy="223.7" r="3.8" fill="#008400" stroke="none"/>
<path d="M83.4,445.6 83.4,454.4" stroke="#840000" stroke-width="1.3" style="stroke-linecap:round"/>
<path d="M83.4,486.8 83.4,495.6" stroke="#840000" stroke-width="1.3" style="stroke-linecap:round"/>
<rect x="77.1" y="454.5" width="12.6" height="32.2" fill="#fff" stroke="#840000" stroke-width="2"/>
<path d="M79.23,483.27 86.77,483.27M79.23,483.27 79.23,480.2 79.59,479.18 79.95,478.84 80.67,478.5 81.38,478.5 82.1,478.84 82.46,479.18 82.82,480.2 82.82,483.27M82.82,480.89 86.77,478.5M80.67,474.38 80.31,473.66 79.23,472.59 86.77,472.59M86.77,474.38 86.77,470.81M79.23,465.35 79.59,466.38 80.67,467.06 82.46,467.4 83.54,467.4 85.33,467.06 86.41,466.38 86.77,465.35 86.77,464.67 86.41,463.65 85.33,462.96 83.54,462.62 82.46,462.62 80.67,462.96 79.59,463.65 79.23,464.67 79.23,465.35M79.23,459.18 86.77,459.18M81.74,455.77 85.33,459.18M83.9,457.81 86.77,455.43" stroke="#008484" stroke-width="1.25"/><text transform="translate(87.4,483.9) rotate(-90)" font-size="12.21" textLength="29.1" lengthAdjust="spacingAndGlyphs">R10k</text>
<path d="M92.23,476.78 99.77,476.78M92.23,476.78 92.23,473.46 92.59,472.36 92.95,471.99 93.67,471.62 94.38,471.62 95.1,471.99 95.46,472.36 95.82,473.46 95.82,476.78M95.82,474.2 99.77,471.62M93.67,467.18 93.31,466.41 92.23,465.25 99.77,465.25M99.77,467.18 99.77,463.33" stroke="#008484" stroke-width="1.25"/><text transform="translate(100.4,477.4) rotate(-90)" font-size="12.21" textLength="14.7" lengthAdjust="spacingAndGlyphs">R1</text>
<path d="M207,437.7 207,446.5" stroke="#840000" stroke-width="1.3" style="stroke-linecap:round"/>
<path d="M207,478.9 207,487.7" stroke="#840000" stroke-width="1.3" style="stroke-linecap:round"/>
<rect x="200.7" y="446.6" width="12.6" height="32.2" fill="#fff" stroke="#840000" stroke-width="2"/>
<path d="M202.83,471.48 210.37,471.48M202.83,471.48 202.83,468.37 203.19,467.33 203.55,466.99 204.27,466.64 204.98,466.64 205.7,466.99 206.06,467.33 206.42,468.37 206.42,471.48M206.42,469.06 210.37,466.64M204.27,462.47 203.91,461.75 202.83,460.67 210.37,460.67M210.37,462.47 210.37,458.86M202.83,455.12 210.37,455.12M205.34,451.67 208.93,455.12M207.5,453.74 210.37,451.32" stroke="#008484" stroke-width="1.25"/><text transform="translate(211,472.1) rotate(-90)" font-size="12.21" textLength="21.4" lengthAdjust="spacingAndGlyphs">R1k</text>
<path d="M215.83,468.88 223.37,468.88M215.83,468.88 215.83,465.63 216.19,464.54 216.55,464.18 217.27,463.82 217.98,463.82 218.7,464.18 219.06,464.54 219.42,465.63 219.42,468.88M219.42,466.35 223.37,463.82M217.62,460.12 217.27,460.12 216.55,459.76 216.19,459.4 215.83,458.67 215.83,457.23 216.19,456.51 216.55,456.15 217.27,455.79 217.98,455.79 218.7,456.15 219.78,456.87 223.37,460.48 223.37,455.43" stroke="#008484" stroke-width="1.25"/><text transform="translate(224,469.5) rotate(-90)" font-size="12.21" textLength="14.7" lengthAdjust="spacingAndGlyphs">R2</text>
<path d="M239.8,437.7 239.8,446.5" stroke="#840000" stroke-width="1.3" style="stroke-linecap:round"/>
<path d="M239.8,478.9 239.8,487.7" stroke="#840000" stroke-width="1.3" style="stroke-linecap:round"/>
<rect x="233.5" y="446.6" width="12.6" height="32.2" fill="#fff" stroke="#840000" stroke-width="2"/>
<path d="M235.63,475.98 243.17,475.98M235.63,475.98 235.63,472.98 235.99,471.98 236.35,471.65 237.07,471.31 237.78,471.31 238.5,471.65 238.86,471.98 239.22,472.98 239.22,475.98M239.22,473.64 243.17,471.31M235.63,464.91 240.66,468.23 240.66,463.24M235.63,464.91 243.17,464.91M238.14,456.17 239.22,456.5 239.94,457.16 240.3,458.16 240.3,458.5 239.94,459.49 239.22,460.16 238.14,460.49 237.78,460.49 236.71,460.16 235.99,459.49 235.63,458.5 235.63,458.16 235.99,457.16 236.71,456.5 238.14,456.17 239.94,456.17 241.73,456.5 242.81,457.16 243.17,458.16 243.17,458.83 242.81,459.83 242.09,460.16M238.14,448.43 239.22,448.76 239.94,449.42 240.3,450.42 240.3,450.76 239.94,451.75 239.22,452.42 238.14,452.75 237.78,452.75 236.71,452.42 235.99,451.75 235.63,450.76 235.63,450.42 235.99,449.42 236.71,448.76 238.14,448.43 239.94,448.43 241.73,448.76 242.81,449.42 243.17,450.42 243.17,451.09 242.81,452.09 242.09,452.42" stroke="#008484" stroke-width="1.25"/><text transform="translate(243.8,476.6) rotate(-90)" font-size="12.21" textLength="28.8" lengthAdjust="spacingAndGlyphs">R499</text>
<path d="M248.63,468.88 256.17,468.88M248.63,468.88 248.63,465.63 248.99,464.54 249.35,464.18 250.07,463.82 250.78,463.82 251.5,464.18 251.86,464.54 252.22,465.63 252.22,468.88M252.22,466.35 256.17,463.82M248.63,459.76 248.63,455.79 251.5,457.95 251.5,456.87 251.86,456.15 252.22,455.79 253.3,455.43 254.02,455.43 255.09,455.79 255.81,456.51 256.17,457.59 256.17,458.67 255.81,459.76 255.45,460.12 254.73,460.48" stroke="#008484" stroke-width="1.25"/><text transform="translate(256.8,469.5) rotate(-90)" font-size="12.21" textLength="14.7" lengthAdjust="spacingAndGlyphs">R3</text>
<path d="M272.8,437.7 272.8,446.5" stroke="#840000" stroke-width="1.3" style="stroke-linecap:round"/>
<path d="M272.8,478.9 272.8,487.7" stroke="#840000" stroke-width="1.3" style="stroke-linecap:round"/>
<rect x="266.5" y="446.6" width="12.6" height="32.2" fill="#fff" stroke="#840000" stroke-width="2"/>
<path d="M268.63,471.48 276.17,471.48M268.63,471.48 268.63,468.37 268.99,467.33 269.35,466.99 270.07,466.64 270.78,466.64 271.5,466.99 271.86,467.33 272.22,468.37 272.22,471.48M272.22,469.06 276.17,466.64M270.07,462.47 269.71,461.75 268.63,460.67 276.17,460.67M276.17,462.47 276.17,458.86M268.63,455.12 276.17,455.12M271.14,451.67 274.73,455.12M273.3,453.74 276.17,451.32" stroke="#008484" stroke-width="1.25"/><text transform="translate(276.8,472.1) rotate(-90)" font-size="12.21" textLength="21.4" lengthAdjust="spacingAndGlyphs">R1k</text>
<path d="M281.63,468.88 289.17,468.88M281.63,468.88 281.63,465.71 281.99,464.66 282.35,464.3 283.07,463.95 283.78,463.95 284.5,464.3 284.86,464.66 285.22,465.71 285.22,468.88M285.22,466.41 289.17,463.95M281.63,457.18 286.66,460.7 286.66,455.43M281.63,457.18 289.17,457.18" stroke="#008484" stroke-width="1.25"/><text transform="translate(289.8,469.5) rotate(-90)" font-size="12.21" textLength="14.7" lengthAdjust="spacingAndGlyphs">R4</text>
<path d="M83.3,429.8 83.3,413.3" stroke="#840000" stroke-width="1.3" style="stroke-linecap:round"/>
<path d="M78.5,421.6 83.3,413.3 88.1,421.6" stroke="#840000" stroke-width="1.3" style="stroke-linecap:round"/>
<path d="M75.79,404.94 75.79,410.18M72.97,407.56 78.61,407.56M85.87,403.07 82.3,403.07 81.95,406.44 82.3,406.07 83.38,405.69 84.45,405.69 85.52,406.07 86.23,406.81 86.59,407.93 86.59,408.68 86.23,409.8 85.52,410.55 84.45,410.93 83.38,410.93 82.3,410.55 81.95,410.18 81.59,409.43M89.12,403.07 91.97,410.93M94.83,403.07 91.97,410.93" stroke="#008484" stroke-width="1.35"/><text x="72.3" y="411.6" font-size="12.78" textLength="23.2" lengthAdjust="spacingAndGlyphs">+5V</text>
<path d="M83.3,424.5 83.3,449" stroke="#008400" stroke-width="1.3" style="stroke-linecap:square"/>
<path d="M206.8,511.5 206.8,544.6" stroke="#840000" stroke-width="1.3" style="stroke-linecap:round"/>
<path d="M198.6,526.4 215,526.4" stroke="#840000" stroke-width="1.3" style="stroke-linecap:round"/>
<path d="M206.8,526.4 214.8,539.3 198.8,539.3 206.8,526.4" stroke="#840000" stroke-width="1.3" style="stroke-linecap:round"/>
<path d="M215,532.8 223.2,525.2" stroke="#840000" stroke-width="1.25" style="stroke-linecap:round"/>
<path d="M223.57,524.86 L221.15,530.64 L217.62,526.83 Z" style="fill:#840000" stroke="#840000" stroke-width="0.5"/>
<path d="M219.7,538.4 227.8,530" stroke="#840000" stroke-width="1.25" style="stroke-linecap:round"/>
<path d="M228.15,529.64 L226.06,535.55 L222.32,531.94 Z" style="fill:#840000" stroke="#840000" stroke-width="0.5"/>
<path d="M239.6,511.5 239.6,544.6" stroke="#840000" stroke-width="1.3" style="stroke-linecap:round"/>
<path d="M231.4,526.4 247.8,526.4" stroke="#840000" stroke-width="1.3" style="stroke-linecap:round"/>
<path d="M239.6,526.4 247.6,539.3 231.6,539.3 239.6,526.4" stroke="#840000" stroke-width="1.3" style="stroke-linecap:round"/>
<path d="M247.8,532.8 256,525.2" stroke="#840000" stroke-width="1.25" style="stroke-linecap:round"/>
<path d="M256.37,524.86 L253.95,530.64 L250.42,526.83 Z" style="fill:#840000" stroke="#840000" stroke-width="0.5"/>
<path d="M252.5,538.4 260.6,530" stroke="#840000" stroke-width="1.25" style="stroke-linecap:round"/>
<path d="M260.95,529.64 L258.86,535.55 L255.12,531.94 Z" style="fill:#840000" stroke="#840000" stroke-width="0.5"/>
<path d="M272.6,511.5 272.6,544.6" stroke="#840000" stroke-width="1.3" style="stroke-linecap:round"/>
<path d="M264.4,526.4 280.8,526.4" stroke="#840000" stroke-width="1.3" style="stroke-linecap:round"/>
<path d="M272.6,526.4 280.6,539.3 264.6,539.3 272.6,526.4" stroke="#840000" stroke-width="1.3" style="stroke-linecap:round"/>
<path d="M280.8,532.8 289,525.2" stroke="#840000" stroke-width="1.25" style="stroke-linecap:round"/>
<path d="M289.37,524.86 L286.95,530.64 L283.42,526.83 Z" style="fill:#840000" stroke="#840000" stroke-width="0.5"/>
<path d="M285.5,538.4 293.6,530" stroke="#840000" stroke-width="1.25" style="stroke-linecap:round"/>
<path d="M293.95,529.64 L291.86,535.55 L288.12,531.94 Z" style="fill:#840000" stroke="#840000" stroke-width="0.5"/>
<path d="M206.8,544.6 272.6,544.6" stroke="#840000" stroke-width="1.3" style="stroke-linecap:round"/>
<path d="M272.6,544.6 272.6,548" stroke="#840000" stroke-width="1.3" style="stroke-linecap:round"/>
<path d="M204.19,561.97 203.53,562.25 202.87,562.81 202.55,563.37 202.55,564.49 202.87,565.05 203.53,565.61 204.19,565.89 205.18,566.17 206.82,566.17 207.81,565.89 208.47,565.61 209.13,565.05 209.45,564.49 209.45,563.37 209.13,562.81 208.47,562.25 207.81,561.97 206.82,561.97M206.82,563.37 206.82,561.97M202.55,559 209.45,559M202.55,559 202.55,556.47 202.87,555.63 203.2,555.35 203.86,555.07 204.52,555.07 205.18,555.35 205.51,555.63 205.84,556.47 205.84,559M205.84,557.03 209.45,555.07M202.55,552.19 209.45,552.19M202.55,552.19 202.55,548.55M205.84,552.19 205.84,549.95M209.45,552.19 209.45,548.55M202.55,546 209.45,546M202.55,546 202.55,542.35M205.84,546 205.84,543.75M209.45,546 209.45,542.35M202.55,539.75 209.45,539.75M202.55,539.75 209.45,535.83M202.55,535.83 209.45,535.83" stroke="#008484" stroke-width="1.25"/><text transform="translate(210.08,566.8) rotate(-90)" font-size="11.33" textLength="31.6" lengthAdjust="spacingAndGlyphs">GREEN</text>
<path d="M235.55,557.98 242.45,557.98M235.55,557.98 235.55,555.56 235.87,554.76 236.2,554.49 236.86,554.22 237.52,554.22 238.18,554.49 238.51,554.76 238.84,555.56M238.84,557.98 238.84,555.56 239.16,554.76 239.49,554.49 240.15,554.22 241.14,554.22 241.8,554.49 242.13,554.76 242.45,555.56 242.45,557.98M235.55,551.47 242.45,551.47M242.45,551.47 242.45,548.25M235.55,546.13 240.48,546.13 241.47,545.86 242.13,545.32 242.45,544.52 242.45,543.98 242.13,543.18 241.47,542.64 240.48,542.37 235.55,542.37M235.55,539.31 242.45,539.31M235.55,539.31 235.55,535.83M238.84,539.31 238.84,537.17M242.45,539.31 242.45,535.83" stroke="#008484" stroke-width="1.25"/><text transform="translate(243.08,558.6) rotate(-90)" font-size="11.33" textLength="23.4" lengthAdjust="spacingAndGlyphs">BLUE</text>
<path d="M270.19,554.69 269.53,554.96 268.87,555.49 268.55,556.02 268.55,557.08 268.87,557.61 269.53,558.14 270.19,558.41 271.18,558.67 272.82,558.67 273.81,558.41 274.47,558.14 275.13,557.61 275.45,557.08 275.45,556.02 275.13,555.49 274.47,554.96 273.81,554.69 272.82,554.69M272.82,556.02 272.82,554.69M268.55,551.89 275.45,551.89M268.55,551.89 268.55,549.5 268.87,548.7 269.2,548.44 269.86,548.17 270.52,548.17 271.18,548.44 271.51,548.7 271.84,549.5 271.84,551.89M271.84,550.03 275.45,548.17M268.55,545.45 275.45,545.45M268.55,545.45 268.55,542M271.84,545.45 271.84,543.32M275.45,545.45 275.45,542M268.55,539.54 275.45,539.54M268.55,539.54 268.55,537.68 268.87,536.89 269.53,536.36 270.19,536.09 271.18,535.83 272.82,535.83 273.81,536.09 274.47,536.36 275.13,536.89 275.45,537.68 275.45,539.54" stroke="#008484" stroke-width="1.25"/><text transform="translate(276.08,559.3) rotate(-90)" font-size="11.33" textLength="24.1" lengthAdjust="spacingAndGlyphs">GRED</text>
<path d="M268.69,518.95 275.31,521M268.69,518.95 275.31,516.9M273.1,520.23 273.1,517.67M270.26,514.83 269.95,514.83 269.32,514.57 269,514.32 268.69,513.81 268.69,512.78 269,512.27 269.32,512.01 269.95,511.76 270.58,511.76 271.21,512.01 272.16,512.52 275.31,515.09 275.31,511.5" stroke="#008484" stroke-width="1.2"/><text transform="translate(275.91,521.6) rotate(-90)" font-size="10.87" textLength="10.7" lengthAdjust="spacingAndGlyphs">A2</text>
<path d="M191.45,562.71 191.45,570.89M191.45,570.89 195.15,570.89M197.54,562.71 197.54,570.89M197.54,562.71 201.55,562.71M197.54,566.61 200.01,566.61M197.54,570.89 201.55,570.89M204.4,562.71 204.4,570.89M204.4,562.71 206.56,562.71 207.48,563.1 208.1,563.88 208.4,564.66 208.71,565.83 208.71,567.77 208.4,568.94 208.1,569.72 207.48,570.5 206.56,570.89 204.4,570.89M211.92,562.71 211.92,570.89M211.92,562.71 214.7,562.71 215.62,563.1 215.93,563.49 216.24,564.27 216.24,565.05 215.93,565.83 215.62,566.22 214.7,566.61 211.92,566.61M214.08,566.61 216.24,570.89M223.71,564.66 223.4,563.88 222.79,563.1 222.17,562.71 220.94,562.71 220.32,563.1 219.7,563.88 219.4,564.66 219.09,565.83 219.09,567.77 219.4,568.94 219.7,569.72 220.32,570.5 220.94,570.89 222.17,570.89 222.79,570.5 223.4,569.72 223.71,568.94 223.71,567.77M222.17,567.77 223.71,567.77M226.97,562.71 226.97,570.89M226.97,562.71 229.74,562.71 230.67,563.1 230.98,563.49 231.28,564.27 231.28,565.05 230.98,565.83 230.67,566.22 229.74,566.61M226.97,566.61 229.74,566.61 230.67,566.99 230.98,567.38 231.28,568.16 231.28,569.33 230.98,570.11 230.67,570.5 229.74,570.89 226.97,570.89M234.49,562.71 234.49,570.89M234.49,562.71 238.81,570.89M238.81,562.71 238.81,570.89M242.33,562.71 242.33,570.89M242.33,562.71 246.33,562.71M242.33,566.61 244.79,566.61M242.33,570.89 246.33,570.89M249.05,562.71 250.37,570.89M251.7,562.71 250.37,570.89M251.7,562.71 253.02,570.89M254.35,562.71 253.02,570.89" stroke="#008484" stroke-width="1.3"/><text x="190.8" y="571.54" font-size="13.16" textLength="64.2" lengthAdjust="spacingAndGlyphs">LEDRGBNEW</text>
<path d="M243.45,549.21 243.45,557.39M243.45,549.21 247.39,557.39M247.39,549.21 247.39,557.39M250.6,551.16 250.6,550.77 250.88,549.99 251.16,549.6 251.72,549.21 252.84,549.21 253.41,549.6 253.69,549.99 253.97,550.77 253.97,551.55 253.69,552.33 253.13,553.49 250.31,557.39 254.25,557.39" stroke="#008484" stroke-width="1.3"/><text x="242.8" y="558.04" font-size="13.16" textLength="12.1" lengthAdjust="spacingAndGlyphs">N2</text>
<path d="M313.5,585.9 313.5,569.4" stroke="#840000" stroke-width="1.3" style="stroke-linecap:round"/>
<path d="M308.7,577.7 313.5,569.4 318.3,577.7" stroke="#840000" stroke-width="1.3" style="stroke-linecap:round"/>
<path d="M306.3,561.14 306.3,566.38M303.48,563.76 309.13,563.76M316.43,559.27 312.85,559.27 312.49,562.64 312.85,562.27 313.92,561.89 315,561.89 316.07,562.27 316.79,563.01 317.15,564.13 317.15,564.88 316.79,566 316.07,566.75 315,567.13 313.92,567.13 312.85,566.75 312.49,566.38 312.13,565.63M319.69,559.27 322.56,567.13M325.43,559.27 322.56,567.13" stroke="#008484" stroke-width="1.35"/><text x="302.8" y="567.8" font-size="12.78" textLength="23.3" lengthAdjust="spacingAndGlyphs">+5V</text>
</svg>
</body></html>
